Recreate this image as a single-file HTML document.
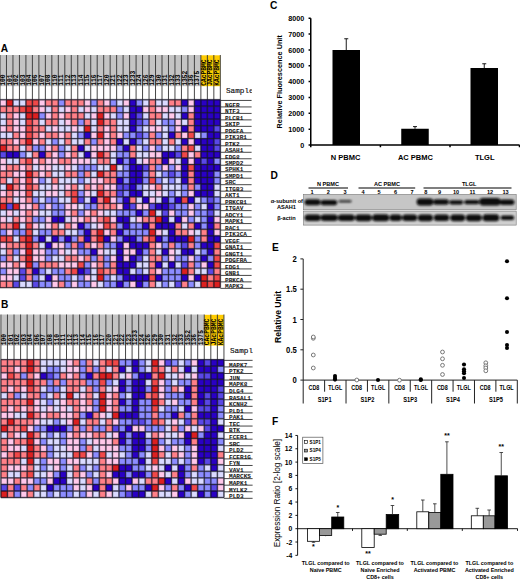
<!DOCTYPE html>
<html><head><meta charset="utf-8"><title>Figure</title>
<style>html,body{margin:0;padding:0;background:#fff}body{width:520px;height:581px;overflow:hidden;font-family:"Liberation Sans",sans-serif}svg{display:block}</style>
</head><body>
<svg width="520" height="581" viewBox="0 0 520 581">
<rect width="520" height="581" fill="#fff"/>
<g font-family="Liberation Sans, sans-serif" font-weight="bold" font-size="10.2" fill="#000">
<text x="0.8" y="52">A</text><text x="0.9" y="308">B</text><text x="270" y="8.5">C</text><text x="270.5" y="178.6">D</text><text x="272" y="251">E</text><text x="272" y="425.2">F</text>
</g>
<defs><filter id="hb" x="-2%" y="-2%" width="104%" height="104%"><feGaussianBlur stdDeviation="0.8"/></filter></defs>
<!--HEATA-->
<rect x="0" y="55" width="200.88" height="31.2" fill="#c4c4c4"/>
<rect x="200.88" y="55.3" width="19.44" height="30.9" fill="#ffcc00"/>
<path d="M0 55V99.7M6.48 55V99.7M12.96 55V99.7M19.44 55V99.7M25.92 55V99.7M32.4 55V99.7M38.88 55V99.7M45.36 55V99.7M51.84 55V99.7M58.32 55V99.7M64.8 55V99.7M71.28 55V99.7M77.76 55V99.7M84.24 55V99.7M90.72 55V99.7M97.2 55V99.7M103.68 55V99.7M110.16 55V99.7M116.64 55V99.7M123.12 55V99.7M129.6 55V99.7M136.08 55V99.7M142.56 55V99.7M149.04 55V99.7M155.52 55V99.7M162 55V99.7M168.48 55V99.7M174.96 55V99.7M181.44 55V99.7M187.92 55V99.7M194.4 55V99.7M200.88 55V99.7M207.36 55V99.7M213.84 55V99.7M220.32 55V99.7" stroke="#333" stroke-width="0.9" fill="none"/>
<g font-family="Liberation Mono, monospace" font-size="6.3" font-weight="bold" fill="#000">
<text transform="translate(5.09 85.8) rotate(-90)">100</text>
<text transform="translate(11.57 85.8) rotate(-90)">101</text>
<text transform="translate(18.05 85.8) rotate(-90)">102</text>
<text transform="translate(24.53 85.8) rotate(-90)">103</text>
<text transform="translate(31.01 85.8) rotate(-90)">104</text>
<text transform="translate(37.49 85.8) rotate(-90)">106</text>
<text transform="translate(43.97 85.8) rotate(-90)">107</text>
<text transform="translate(50.45 85.8) rotate(-90)">108</text>
<text transform="translate(56.93 85.8) rotate(-90)">110</text>
<text transform="translate(63.41 85.8) rotate(-90)">111</text>
<text transform="translate(69.89 85.8) rotate(-90)">112</text>
<text transform="translate(76.37 85.8) rotate(-90)">113</text>
<text transform="translate(82.85 85.8) rotate(-90)">114</text>
<text transform="translate(89.33 85.8) rotate(-90)">115</text>
<text transform="translate(95.81 85.8) rotate(-90)">116</text>
<text transform="translate(102.29 85.8) rotate(-90)">117</text>
<text transform="translate(108.77 85.8) rotate(-90)">120</text>
<text transform="translate(115.25 85.8) rotate(-90)">121</text>
<text transform="translate(121.73 85.8) rotate(-90)">122</text>
<text transform="translate(128.21 85.8) rotate(-90)">123</text>
<text transform="translate(134.69 85.8) rotate(-90)">1233</text>
<text transform="translate(141.17 85.8) rotate(-90)">124</text>
<text transform="translate(147.65 85.8) rotate(-90)">126</text>
<text transform="translate(154.13 85.8) rotate(-90)">129</text>
<text transform="translate(160.61 85.8) rotate(-90)">130</text>
<text transform="translate(167.09 85.8) rotate(-90)">131</text>
<text transform="translate(173.57 85.8) rotate(-90)">132</text>
<text transform="translate(180.05 85.8) rotate(-90)">133</text>
<text transform="translate(186.53 85.8) rotate(-90)">1352</text>
<text transform="translate(193.01 85.8) rotate(-90)">136</text>
<text transform="translate(199.49 85.8) rotate(-90)">1375</text>
<text transform="translate(205.97 85.8) rotate(-90)">CAcPBMC</text>
<text transform="translate(212.45 85.8) rotate(-90)">JAcPBMC</text>
<text transform="translate(218.93 85.8) rotate(-90)">KAcPBMC</text>
</g>
<rect x="0" y="99.7" width="6.53" height="6.53" fill="#ffc8ea"/>
<rect x="6.48" y="99.7" width="6.53" height="6.53" fill="#dc2020"/>
<rect x="12.96" y="99.7" width="6.53" height="6.53" fill="#dadaff"/>
<rect x="19.44" y="99.7" width="6.53" height="6.53" fill="#dadaff"/>
<rect x="25.92" y="99.7" width="6.53" height="6.53" fill="#f04848"/>
<rect x="32.4" y="99.7" width="6.53" height="6.53" fill="#f04848"/>
<rect x="38.88" y="99.7" width="6.53" height="6.53" fill="#ffc8ea"/>
<rect x="45.36" y="99.7" width="6.53" height="6.53" fill="#ff8088"/>
<rect x="51.84" y="99.7" width="6.53" height="6.53" fill="#ff8088"/>
<rect x="58.32" y="99.7" width="6.53" height="6.53" fill="#8c8cff"/>
<rect x="64.8" y="99.7" width="6.53" height="6.53" fill="#ff8088"/>
<rect x="71.28" y="99.7" width="6.53" height="6.53" fill="#ff8088"/>
<rect x="77.76" y="99.7" width="6.53" height="6.53" fill="#ff8088"/>
<rect x="84.24" y="99.7" width="6.53" height="6.53" fill="#ffc8ea"/>
<rect x="90.72" y="99.7" width="6.53" height="6.53" fill="#8c8cff"/>
<rect x="97.2" y="99.7" width="6.53" height="6.53" fill="#ff8088"/>
<rect x="103.68" y="99.7" width="6.53" height="6.53" fill="#ffc8ea"/>
<rect x="110.16" y="99.7" width="6.53" height="6.53" fill="#8c8cff"/>
<rect x="116.64" y="99.7" width="6.53" height="6.53" fill="#dadaff"/>
<rect x="123.12" y="99.7" width="6.53" height="6.53" fill="#ffc8ea"/>
<rect x="129.6" y="99.7" width="6.53" height="6.53" fill="#2a00c4"/>
<rect x="136.08" y="99.7" width="6.53" height="6.53" fill="#8c8cff"/>
<rect x="142.56" y="99.7" width="6.53" height="6.53" fill="#dadaff"/>
<rect x="149.04" y="99.7" width="6.53" height="6.53" fill="#ff8088"/>
<rect x="155.52" y="99.7" width="6.53" height="6.53" fill="#dadaff"/>
<rect x="162" y="99.7" width="6.53" height="6.53" fill="#dadaff"/>
<rect x="168.48" y="99.7" width="6.53" height="6.53" fill="#ff8088"/>
<rect x="174.96" y="99.7" width="6.53" height="6.53" fill="#ff8088"/>
<rect x="181.44" y="99.7" width="6.53" height="6.53" fill="#2a00c4"/>
<rect x="187.92" y="99.7" width="6.53" height="6.53" fill="#ffc8ea"/>
<rect x="194.4" y="99.7" width="6.53" height="6.53" fill="#2a00c4"/>
<rect x="200.88" y="99.7" width="6.53" height="6.53" fill="#2a00c4"/>
<rect x="207.36" y="99.7" width="6.53" height="6.53" fill="#2a00c4"/>
<rect x="213.84" y="99.7" width="6.53" height="6.53" fill="#2a00c4"/>
<rect x="0" y="106.18" width="6.53" height="6.53" fill="#ff8088"/>
<rect x="6.48" y="106.18" width="6.53" height="6.53" fill="#ff8088"/>
<rect x="12.96" y="106.18" width="6.53" height="6.53" fill="#ff8088"/>
<rect x="19.44" y="106.18" width="6.53" height="6.53" fill="#f04848"/>
<rect x="25.92" y="106.18" width="6.53" height="6.53" fill="#dc2020"/>
<rect x="32.4" y="106.18" width="6.53" height="6.53" fill="#ff8088"/>
<rect x="38.88" y="106.18" width="6.53" height="6.53" fill="#ffc8ea"/>
<rect x="45.36" y="106.18" width="6.53" height="6.53" fill="#dadaff"/>
<rect x="51.84" y="106.18" width="6.53" height="6.53" fill="#ff8088"/>
<rect x="58.32" y="106.18" width="6.53" height="6.53" fill="#dadaff"/>
<rect x="64.8" y="106.18" width="6.53" height="6.53" fill="#ffc8ea"/>
<rect x="71.28" y="106.18" width="6.53" height="6.53" fill="#ff8088"/>
<rect x="77.76" y="106.18" width="6.53" height="6.53" fill="#dadaff"/>
<rect x="84.24" y="106.18" width="6.53" height="6.53" fill="#ffc8ea"/>
<rect x="90.72" y="106.18" width="6.53" height="6.53" fill="#dadaff"/>
<rect x="97.2" y="106.18" width="6.53" height="6.53" fill="#ff8088"/>
<rect x="103.68" y="106.18" width="6.53" height="6.53" fill="#ff8088"/>
<rect x="110.16" y="106.18" width="6.53" height="6.53" fill="#ff8088"/>
<rect x="116.64" y="106.18" width="6.53" height="6.53" fill="#8c8cff"/>
<rect x="123.12" y="106.18" width="6.53" height="6.53" fill="#dadaff"/>
<rect x="129.6" y="106.18" width="6.53" height="6.53" fill="#2a00c4"/>
<rect x="136.08" y="106.18" width="6.53" height="6.53" fill="#2a00c4"/>
<rect x="142.56" y="106.18" width="6.53" height="6.53" fill="#ffc8ea"/>
<rect x="149.04" y="106.18" width="6.53" height="6.53" fill="#ff8088"/>
<rect x="155.52" y="106.18" width="6.53" height="6.53" fill="#ffc8ea"/>
<rect x="162" y="106.18" width="6.53" height="6.53" fill="#ffc8ea"/>
<rect x="168.48" y="106.18" width="6.53" height="6.53" fill="#dadaff"/>
<rect x="174.96" y="106.18" width="6.53" height="6.53" fill="#dadaff"/>
<rect x="181.44" y="106.18" width="6.53" height="6.53" fill="#8c8cff"/>
<rect x="187.92" y="106.18" width="6.53" height="6.53" fill="#ffc8ea"/>
<rect x="194.4" y="106.18" width="6.53" height="6.53" fill="#2a00c4"/>
<rect x="200.88" y="106.18" width="6.53" height="6.53" fill="#2a00c4"/>
<rect x="207.36" y="106.18" width="6.53" height="6.53" fill="#2a00c4"/>
<rect x="213.84" y="106.18" width="6.53" height="6.53" fill="#2a00c4"/>
<rect x="0" y="112.66" width="6.53" height="6.53" fill="#dadaff"/>
<rect x="6.48" y="112.66" width="6.53" height="6.53" fill="#ff8088"/>
<rect x="12.96" y="112.66" width="6.53" height="6.53" fill="#ffc8ea"/>
<rect x="19.44" y="112.66" width="6.53" height="6.53" fill="#dadaff"/>
<rect x="25.92" y="112.66" width="6.53" height="6.53" fill="#dc2020"/>
<rect x="32.4" y="112.66" width="6.53" height="6.53" fill="#dc2020"/>
<rect x="38.88" y="112.66" width="6.53" height="6.53" fill="#8c8cff"/>
<rect x="45.36" y="112.66" width="6.53" height="6.53" fill="#ffc8ea"/>
<rect x="51.84" y="112.66" width="6.53" height="6.53" fill="#ff8088"/>
<rect x="58.32" y="112.66" width="6.53" height="6.53" fill="#ffc8ea"/>
<rect x="64.8" y="112.66" width="6.53" height="6.53" fill="#ff8088"/>
<rect x="71.28" y="112.66" width="6.53" height="6.53" fill="#ff8088"/>
<rect x="77.76" y="112.66" width="6.53" height="6.53" fill="#ff8088"/>
<rect x="84.24" y="112.66" width="6.53" height="6.53" fill="#dadaff"/>
<rect x="90.72" y="112.66" width="6.53" height="6.53" fill="#ffc8ea"/>
<rect x="97.2" y="112.66" width="6.53" height="6.53" fill="#dc2020"/>
<rect x="103.68" y="112.66" width="6.53" height="6.53" fill="#ffc8ea"/>
<rect x="110.16" y="112.66" width="6.53" height="6.53" fill="#dadaff"/>
<rect x="116.64" y="112.66" width="6.53" height="6.53" fill="#8c8cff"/>
<rect x="123.12" y="112.66" width="6.53" height="6.53" fill="#ffc8ea"/>
<rect x="129.6" y="112.66" width="6.53" height="6.53" fill="#2a00c4"/>
<rect x="136.08" y="112.66" width="6.53" height="6.53" fill="#5a48e6"/>
<rect x="142.56" y="112.66" width="6.53" height="6.53" fill="#dadaff"/>
<rect x="149.04" y="112.66" width="6.53" height="6.53" fill="#ff8088"/>
<rect x="155.52" y="112.66" width="6.53" height="6.53" fill="#ff8088"/>
<rect x="162" y="112.66" width="6.53" height="6.53" fill="#dadaff"/>
<rect x="168.48" y="112.66" width="6.53" height="6.53" fill="#ffc8ea"/>
<rect x="174.96" y="112.66" width="6.53" height="6.53" fill="#dadaff"/>
<rect x="181.44" y="112.66" width="6.53" height="6.53" fill="#2a00c4"/>
<rect x="187.92" y="112.66" width="6.53" height="6.53" fill="#ff8088"/>
<rect x="194.4" y="112.66" width="6.53" height="6.53" fill="#2a00c4"/>
<rect x="200.88" y="112.66" width="6.53" height="6.53" fill="#2a00c4"/>
<rect x="207.36" y="112.66" width="6.53" height="6.53" fill="#2a00c4"/>
<rect x="213.84" y="112.66" width="6.53" height="6.53" fill="#2a00c4"/>
<rect x="0" y="119.14" width="6.53" height="6.53" fill="#dadaff"/>
<rect x="6.48" y="119.14" width="6.53" height="6.53" fill="#ff8088"/>
<rect x="12.96" y="119.14" width="6.53" height="6.53" fill="#ffc8ea"/>
<rect x="19.44" y="119.14" width="6.53" height="6.53" fill="#dadaff"/>
<rect x="25.92" y="119.14" width="6.53" height="6.53" fill="#f04848"/>
<rect x="32.4" y="119.14" width="6.53" height="6.53" fill="#ff8088"/>
<rect x="38.88" y="119.14" width="6.53" height="6.53" fill="#dadaff"/>
<rect x="45.36" y="119.14" width="6.53" height="6.53" fill="#ff8088"/>
<rect x="51.84" y="119.14" width="6.53" height="6.53" fill="#ff8088"/>
<rect x="58.32" y="119.14" width="6.53" height="6.53" fill="#dadaff"/>
<rect x="64.8" y="119.14" width="6.53" height="6.53" fill="#ffc8ea"/>
<rect x="71.28" y="119.14" width="6.53" height="6.53" fill="#ff8088"/>
<rect x="77.76" y="119.14" width="6.53" height="6.53" fill="#8c8cff"/>
<rect x="84.24" y="119.14" width="6.53" height="6.53" fill="#ff8088"/>
<rect x="90.72" y="119.14" width="6.53" height="6.53" fill="#dadaff"/>
<rect x="97.2" y="119.14" width="6.53" height="6.53" fill="#dc2020"/>
<rect x="103.68" y="119.14" width="6.53" height="6.53" fill="#ff8088"/>
<rect x="110.16" y="119.14" width="6.53" height="6.53" fill="#ff8088"/>
<rect x="116.64" y="119.14" width="6.53" height="6.53" fill="#dadaff"/>
<rect x="123.12" y="119.14" width="6.53" height="6.53" fill="#dadaff"/>
<rect x="129.6" y="119.14" width="6.53" height="6.53" fill="#2a00c4"/>
<rect x="136.08" y="119.14" width="6.53" height="6.53" fill="#5a48e6"/>
<rect x="142.56" y="119.14" width="6.53" height="6.53" fill="#8c8cff"/>
<rect x="149.04" y="119.14" width="6.53" height="6.53" fill="#ff8088"/>
<rect x="155.52" y="119.14" width="6.53" height="6.53" fill="#dadaff"/>
<rect x="162" y="119.14" width="6.53" height="6.53" fill="#8c8cff"/>
<rect x="168.48" y="119.14" width="6.53" height="6.53" fill="#8c8cff"/>
<rect x="174.96" y="119.14" width="6.53" height="6.53" fill="#ffc8ea"/>
<rect x="181.44" y="119.14" width="6.53" height="6.53" fill="#dadaff"/>
<rect x="187.92" y="119.14" width="6.53" height="6.53" fill="#ff8088"/>
<rect x="194.4" y="119.14" width="6.53" height="6.53" fill="#2a00c4"/>
<rect x="200.88" y="119.14" width="6.53" height="6.53" fill="#2a00c4"/>
<rect x="207.36" y="119.14" width="6.53" height="6.53" fill="#2a00c4"/>
<rect x="213.84" y="119.14" width="6.53" height="6.53" fill="#2a00c4"/>
<rect x="0" y="125.62" width="6.53" height="6.53" fill="#ffc8ea"/>
<rect x="6.48" y="125.62" width="6.53" height="6.53" fill="#ff8088"/>
<rect x="12.96" y="125.62" width="6.53" height="6.53" fill="#ffc8ea"/>
<rect x="19.44" y="125.62" width="6.53" height="6.53" fill="#ffc8ea"/>
<rect x="25.92" y="125.62" width="6.53" height="6.53" fill="#f04848"/>
<rect x="32.4" y="125.62" width="6.53" height="6.53" fill="#ff8088"/>
<rect x="38.88" y="125.62" width="6.53" height="6.53" fill="#ff8088"/>
<rect x="45.36" y="125.62" width="6.53" height="6.53" fill="#dadaff"/>
<rect x="51.84" y="125.62" width="6.53" height="6.53" fill="#ffc8ea"/>
<rect x="58.32" y="125.62" width="6.53" height="6.53" fill="#dadaff"/>
<rect x="64.8" y="125.62" width="6.53" height="6.53" fill="#dadaff"/>
<rect x="71.28" y="125.62" width="6.53" height="6.53" fill="#ffc8ea"/>
<rect x="77.76" y="125.62" width="6.53" height="6.53" fill="#dadaff"/>
<rect x="84.24" y="125.62" width="6.53" height="6.53" fill="#dc2020"/>
<rect x="90.72" y="125.62" width="6.53" height="6.53" fill="#dadaff"/>
<rect x="97.2" y="125.62" width="6.53" height="6.53" fill="#ff8088"/>
<rect x="103.68" y="125.62" width="6.53" height="6.53" fill="#ffc8ea"/>
<rect x="110.16" y="125.62" width="6.53" height="6.53" fill="#ff8088"/>
<rect x="116.64" y="125.62" width="6.53" height="6.53" fill="#dadaff"/>
<rect x="123.12" y="125.62" width="6.53" height="6.53" fill="#dadaff"/>
<rect x="129.6" y="125.62" width="6.53" height="6.53" fill="#2a00c4"/>
<rect x="136.08" y="125.62" width="6.53" height="6.53" fill="#8c8cff"/>
<rect x="142.56" y="125.62" width="6.53" height="6.53" fill="#dadaff"/>
<rect x="149.04" y="125.62" width="6.53" height="6.53" fill="#ffc8ea"/>
<rect x="155.52" y="125.62" width="6.53" height="6.53" fill="#ffc8ea"/>
<rect x="162" y="125.62" width="6.53" height="6.53" fill="#dadaff"/>
<rect x="168.48" y="125.62" width="6.53" height="6.53" fill="#8c8cff"/>
<rect x="174.96" y="125.62" width="6.53" height="6.53" fill="#ffc8ea"/>
<rect x="181.44" y="125.62" width="6.53" height="6.53" fill="#2a00c4"/>
<rect x="187.92" y="125.62" width="6.53" height="6.53" fill="#ff8088"/>
<rect x="194.4" y="125.62" width="6.53" height="6.53" fill="#2a00c4"/>
<rect x="200.88" y="125.62" width="6.53" height="6.53" fill="#2a00c4"/>
<rect x="207.36" y="125.62" width="6.53" height="6.53" fill="#2a00c4"/>
<rect x="213.84" y="125.62" width="6.53" height="6.53" fill="#5a48e6"/>
<rect x="0" y="132.1" width="6.53" height="6.53" fill="#dadaff"/>
<rect x="6.48" y="132.1" width="6.53" height="6.53" fill="#dadaff"/>
<rect x="12.96" y="132.1" width="6.53" height="6.53" fill="#ff8088"/>
<rect x="19.44" y="132.1" width="6.53" height="6.53" fill="#ffc8ea"/>
<rect x="25.92" y="132.1" width="6.53" height="6.53" fill="#f04848"/>
<rect x="32.4" y="132.1" width="6.53" height="6.53" fill="#ff8088"/>
<rect x="38.88" y="132.1" width="6.53" height="6.53" fill="#ffc8ea"/>
<rect x="45.36" y="132.1" width="6.53" height="6.53" fill="#ff8088"/>
<rect x="51.84" y="132.1" width="6.53" height="6.53" fill="#ff8088"/>
<rect x="58.32" y="132.1" width="6.53" height="6.53" fill="#ffc8ea"/>
<rect x="64.8" y="132.1" width="6.53" height="6.53" fill="#ff8088"/>
<rect x="71.28" y="132.1" width="6.53" height="6.53" fill="#dadaff"/>
<rect x="77.76" y="132.1" width="6.53" height="6.53" fill="#8c8cff"/>
<rect x="84.24" y="132.1" width="6.53" height="6.53" fill="#2a00c4"/>
<rect x="90.72" y="132.1" width="6.53" height="6.53" fill="#ffc8ea"/>
<rect x="97.2" y="132.1" width="6.53" height="6.53" fill="#dc2020"/>
<rect x="103.68" y="132.1" width="6.53" height="6.53" fill="#ffc8ea"/>
<rect x="110.16" y="132.1" width="6.53" height="6.53" fill="#ff8088"/>
<rect x="116.64" y="132.1" width="6.53" height="6.53" fill="#ffc8ea"/>
<rect x="123.12" y="132.1" width="6.53" height="6.53" fill="#8c8cff"/>
<rect x="129.6" y="132.1" width="6.53" height="6.53" fill="#8c8cff"/>
<rect x="136.08" y="132.1" width="6.53" height="6.53" fill="#5a48e6"/>
<rect x="142.56" y="132.1" width="6.53" height="6.53" fill="#8c8cff"/>
<rect x="149.04" y="132.1" width="6.53" height="6.53" fill="#ff8088"/>
<rect x="155.52" y="132.1" width="6.53" height="6.53" fill="#8c8cff"/>
<rect x="162" y="132.1" width="6.53" height="6.53" fill="#dadaff"/>
<rect x="168.48" y="132.1" width="6.53" height="6.53" fill="#2a00c4"/>
<rect x="174.96" y="132.1" width="6.53" height="6.53" fill="#ff8088"/>
<rect x="181.44" y="132.1" width="6.53" height="6.53" fill="#ffc8ea"/>
<rect x="187.92" y="132.1" width="6.53" height="6.53" fill="#f04848"/>
<rect x="194.4" y="132.1" width="6.53" height="6.53" fill="#dadaff"/>
<rect x="200.88" y="132.1" width="6.53" height="6.53" fill="#8c8cff"/>
<rect x="207.36" y="132.1" width="6.53" height="6.53" fill="#2a00c4"/>
<rect x="213.84" y="132.1" width="6.53" height="6.53" fill="#2a00c4"/>
<rect x="0" y="138.58" width="6.53" height="6.53" fill="#ff8088"/>
<rect x="6.48" y="138.58" width="6.53" height="6.53" fill="#ff8088"/>
<rect x="12.96" y="138.58" width="6.53" height="6.53" fill="#ffc8ea"/>
<rect x="19.44" y="138.58" width="6.53" height="6.53" fill="#ff8088"/>
<rect x="25.92" y="138.58" width="6.53" height="6.53" fill="#dc2020"/>
<rect x="32.4" y="138.58" width="6.53" height="6.53" fill="#ffc8ea"/>
<rect x="38.88" y="138.58" width="6.53" height="6.53" fill="#ff8088"/>
<rect x="45.36" y="138.58" width="6.53" height="6.53" fill="#dadaff"/>
<rect x="51.84" y="138.58" width="6.53" height="6.53" fill="#8c8cff"/>
<rect x="58.32" y="138.58" width="6.53" height="6.53" fill="#dadaff"/>
<rect x="64.8" y="138.58" width="6.53" height="6.53" fill="#ff8088"/>
<rect x="71.28" y="138.58" width="6.53" height="6.53" fill="#dadaff"/>
<rect x="77.76" y="138.58" width="6.53" height="6.53" fill="#dadaff"/>
<rect x="84.24" y="138.58" width="6.53" height="6.53" fill="#ff8088"/>
<rect x="90.72" y="138.58" width="6.53" height="6.53" fill="#8c8cff"/>
<rect x="97.2" y="138.58" width="6.53" height="6.53" fill="#ff8088"/>
<rect x="103.68" y="138.58" width="6.53" height="6.53" fill="#ffc8ea"/>
<rect x="110.16" y="138.58" width="6.53" height="6.53" fill="#ff8088"/>
<rect x="116.64" y="138.58" width="6.53" height="6.53" fill="#2a00c4"/>
<rect x="123.12" y="138.58" width="6.53" height="6.53" fill="#dadaff"/>
<rect x="129.6" y="138.58" width="6.53" height="6.53" fill="#2a00c4"/>
<rect x="136.08" y="138.58" width="6.53" height="6.53" fill="#8c8cff"/>
<rect x="142.56" y="138.58" width="6.53" height="6.53" fill="#dadaff"/>
<rect x="149.04" y="138.58" width="6.53" height="6.53" fill="#ff8088"/>
<rect x="155.52" y="138.58" width="6.53" height="6.53" fill="#ff8088"/>
<rect x="162" y="138.58" width="6.53" height="6.53" fill="#dadaff"/>
<rect x="168.48" y="138.58" width="6.53" height="6.53" fill="#ff8088"/>
<rect x="174.96" y="138.58" width="6.53" height="6.53" fill="#dadaff"/>
<rect x="181.44" y="138.58" width="6.53" height="6.53" fill="#2a00c4"/>
<rect x="187.92" y="138.58" width="6.53" height="6.53" fill="#ffc8ea"/>
<rect x="194.4" y="138.58" width="6.53" height="6.53" fill="#2a00c4"/>
<rect x="200.88" y="138.58" width="6.53" height="6.53" fill="#2a00c4"/>
<rect x="207.36" y="138.58" width="6.53" height="6.53" fill="#2a00c4"/>
<rect x="213.84" y="138.58" width="6.53" height="6.53" fill="#5a48e6"/>
<rect x="0" y="145.06" width="6.53" height="6.53" fill="#dc2020"/>
<rect x="6.48" y="145.06" width="6.53" height="6.53" fill="#ff8088"/>
<rect x="12.96" y="145.06" width="6.53" height="6.53" fill="#ff8088"/>
<rect x="19.44" y="145.06" width="6.53" height="6.53" fill="#dadaff"/>
<rect x="25.92" y="145.06" width="6.53" height="6.53" fill="#ff8088"/>
<rect x="32.4" y="145.06" width="6.53" height="6.53" fill="#8c8cff"/>
<rect x="38.88" y="145.06" width="6.53" height="6.53" fill="#8c8cff"/>
<rect x="45.36" y="145.06" width="6.53" height="6.53" fill="#ffc8ea"/>
<rect x="51.84" y="145.06" width="6.53" height="6.53" fill="#ff8088"/>
<rect x="58.32" y="145.06" width="6.53" height="6.53" fill="#8c8cff"/>
<rect x="64.8" y="145.06" width="6.53" height="6.53" fill="#dadaff"/>
<rect x="71.28" y="145.06" width="6.53" height="6.53" fill="#ff8088"/>
<rect x="77.76" y="145.06" width="6.53" height="6.53" fill="#2a00c4"/>
<rect x="84.24" y="145.06" width="6.53" height="6.53" fill="#dadaff"/>
<rect x="90.72" y="145.06" width="6.53" height="6.53" fill="#ffc8ea"/>
<rect x="97.2" y="145.06" width="6.53" height="6.53" fill="#ffc8ea"/>
<rect x="103.68" y="145.06" width="6.53" height="6.53" fill="#ffc8ea"/>
<rect x="110.16" y="145.06" width="6.53" height="6.53" fill="#ffc8ea"/>
<rect x="116.64" y="145.06" width="6.53" height="6.53" fill="#8c8cff"/>
<rect x="123.12" y="145.06" width="6.53" height="6.53" fill="#2a00c4"/>
<rect x="129.6" y="145.06" width="6.53" height="6.53" fill="#ff8088"/>
<rect x="136.08" y="145.06" width="6.53" height="6.53" fill="#dadaff"/>
<rect x="142.56" y="145.06" width="6.53" height="6.53" fill="#8c8cff"/>
<rect x="149.04" y="145.06" width="6.53" height="6.53" fill="#ffc8ea"/>
<rect x="155.52" y="145.06" width="6.53" height="6.53" fill="#8c8cff"/>
<rect x="162" y="145.06" width="6.53" height="6.53" fill="#dadaff"/>
<rect x="168.48" y="145.06" width="6.53" height="6.53" fill="#dadaff"/>
<rect x="174.96" y="145.06" width="6.53" height="6.53" fill="#8c8cff"/>
<rect x="181.44" y="145.06" width="6.53" height="6.53" fill="#ff8088"/>
<rect x="187.92" y="145.06" width="6.53" height="6.53" fill="#f04848"/>
<rect x="194.4" y="145.06" width="6.53" height="6.53" fill="#dadaff"/>
<rect x="200.88" y="145.06" width="6.53" height="6.53" fill="#2a00c4"/>
<rect x="207.36" y="145.06" width="6.53" height="6.53" fill="#2a00c4"/>
<rect x="213.84" y="145.06" width="6.53" height="6.53" fill="#5a48e6"/>
<rect x="0" y="151.54" width="6.53" height="6.53" fill="#5a48e6"/>
<rect x="6.48" y="151.54" width="6.53" height="6.53" fill="#2a00c4"/>
<rect x="12.96" y="151.54" width="6.53" height="6.53" fill="#2a00c4"/>
<rect x="19.44" y="151.54" width="6.53" height="6.53" fill="#8c8cff"/>
<rect x="25.92" y="151.54" width="6.53" height="6.53" fill="#dadaff"/>
<rect x="32.4" y="151.54" width="6.53" height="6.53" fill="#ff8088"/>
<rect x="38.88" y="151.54" width="6.53" height="6.53" fill="#2a00c4"/>
<rect x="45.36" y="151.54" width="6.53" height="6.53" fill="#ff8088"/>
<rect x="51.84" y="151.54" width="6.53" height="6.53" fill="#ffc8ea"/>
<rect x="58.32" y="151.54" width="6.53" height="6.53" fill="#8c8cff"/>
<rect x="64.8" y="151.54" width="6.53" height="6.53" fill="#ffc8ea"/>
<rect x="71.28" y="151.54" width="6.53" height="6.53" fill="#ff8088"/>
<rect x="77.76" y="151.54" width="6.53" height="6.53" fill="#dadaff"/>
<rect x="84.24" y="151.54" width="6.53" height="6.53" fill="#2a00c4"/>
<rect x="90.72" y="151.54" width="6.53" height="6.53" fill="#ffc8ea"/>
<rect x="97.2" y="151.54" width="6.53" height="6.53" fill="#dc2020"/>
<rect x="103.68" y="151.54" width="6.53" height="6.53" fill="#ff8088"/>
<rect x="110.16" y="151.54" width="6.53" height="6.53" fill="#dadaff"/>
<rect x="116.64" y="151.54" width="6.53" height="6.53" fill="#8c8cff"/>
<rect x="123.12" y="151.54" width="6.53" height="6.53" fill="#8c8cff"/>
<rect x="129.6" y="151.54" width="6.53" height="6.53" fill="#ff8088"/>
<rect x="136.08" y="151.54" width="6.53" height="6.53" fill="#dadaff"/>
<rect x="142.56" y="151.54" width="6.53" height="6.53" fill="#dadaff"/>
<rect x="149.04" y="151.54" width="6.53" height="6.53" fill="#ffc8ea"/>
<rect x="155.52" y="151.54" width="6.53" height="6.53" fill="#ffc8ea"/>
<rect x="162" y="151.54" width="6.53" height="6.53" fill="#2a00c4"/>
<rect x="168.48" y="151.54" width="6.53" height="6.53" fill="#2a00c4"/>
<rect x="174.96" y="151.54" width="6.53" height="6.53" fill="#5a48e6"/>
<rect x="181.44" y="151.54" width="6.53" height="6.53" fill="#f04848"/>
<rect x="187.92" y="151.54" width="6.53" height="6.53" fill="#ffc8ea"/>
<rect x="194.4" y="151.54" width="6.53" height="6.53" fill="#ff8088"/>
<rect x="200.88" y="151.54" width="6.53" height="6.53" fill="#2a00c4"/>
<rect x="207.36" y="151.54" width="6.53" height="6.53" fill="#2a00c4"/>
<rect x="213.84" y="151.54" width="6.53" height="6.53" fill="#2a00c4"/>
<rect x="0" y="158.02" width="6.53" height="6.53" fill="#ffc8ea"/>
<rect x="6.48" y="158.02" width="6.53" height="6.53" fill="#dadaff"/>
<rect x="12.96" y="158.02" width="6.53" height="6.53" fill="#dadaff"/>
<rect x="19.44" y="158.02" width="6.53" height="6.53" fill="#ff8088"/>
<rect x="25.92" y="158.02" width="6.53" height="6.53" fill="#f04848"/>
<rect x="32.4" y="158.02" width="6.53" height="6.53" fill="#ffc8ea"/>
<rect x="38.88" y="158.02" width="6.53" height="6.53" fill="#ff8088"/>
<rect x="45.36" y="158.02" width="6.53" height="6.53" fill="#ffc8ea"/>
<rect x="51.84" y="158.02" width="6.53" height="6.53" fill="#ffc8ea"/>
<rect x="58.32" y="158.02" width="6.53" height="6.53" fill="#ff8088"/>
<rect x="64.8" y="158.02" width="6.53" height="6.53" fill="#ff8088"/>
<rect x="71.28" y="158.02" width="6.53" height="6.53" fill="#ffc8ea"/>
<rect x="77.76" y="158.02" width="6.53" height="6.53" fill="#ffc8ea"/>
<rect x="84.24" y="158.02" width="6.53" height="6.53" fill="#ffc8ea"/>
<rect x="90.72" y="158.02" width="6.53" height="6.53" fill="#dadaff"/>
<rect x="97.2" y="158.02" width="6.53" height="6.53" fill="#ff8088"/>
<rect x="103.68" y="158.02" width="6.53" height="6.53" fill="#ff8088"/>
<rect x="110.16" y="158.02" width="6.53" height="6.53" fill="#dadaff"/>
<rect x="116.64" y="158.02" width="6.53" height="6.53" fill="#2a00c4"/>
<rect x="123.12" y="158.02" width="6.53" height="6.53" fill="#8c8cff"/>
<rect x="129.6" y="158.02" width="6.53" height="6.53" fill="#2a00c4"/>
<rect x="136.08" y="158.02" width="6.53" height="6.53" fill="#dadaff"/>
<rect x="142.56" y="158.02" width="6.53" height="6.53" fill="#ffc8ea"/>
<rect x="149.04" y="158.02" width="6.53" height="6.53" fill="#ff8088"/>
<rect x="155.52" y="158.02" width="6.53" height="6.53" fill="#ff8088"/>
<rect x="162" y="158.02" width="6.53" height="6.53" fill="#2a00c4"/>
<rect x="168.48" y="158.02" width="6.53" height="6.53" fill="#ffc8ea"/>
<rect x="174.96" y="158.02" width="6.53" height="6.53" fill="#dadaff"/>
<rect x="181.44" y="158.02" width="6.53" height="6.53" fill="#2a00c4"/>
<rect x="187.92" y="158.02" width="6.53" height="6.53" fill="#ffc8ea"/>
<rect x="194.4" y="158.02" width="6.53" height="6.53" fill="#2a00c4"/>
<rect x="200.88" y="158.02" width="6.53" height="6.53" fill="#5a48e6"/>
<rect x="207.36" y="158.02" width="6.53" height="6.53" fill="#2a00c4"/>
<rect x="213.84" y="158.02" width="6.53" height="6.53" fill="#8c8cff"/>
<rect x="0" y="164.5" width="6.53" height="6.53" fill="#ffc8ea"/>
<rect x="6.48" y="164.5" width="6.53" height="6.53" fill="#ff8088"/>
<rect x="12.96" y="164.5" width="6.53" height="6.53" fill="#ff8088"/>
<rect x="19.44" y="164.5" width="6.53" height="6.53" fill="#ffc8ea"/>
<rect x="25.92" y="164.5" width="6.53" height="6.53" fill="#ff8088"/>
<rect x="32.4" y="164.5" width="6.53" height="6.53" fill="#dadaff"/>
<rect x="38.88" y="164.5" width="6.53" height="6.53" fill="#ffc8ea"/>
<rect x="45.36" y="164.5" width="6.53" height="6.53" fill="#ffc8ea"/>
<rect x="51.84" y="164.5" width="6.53" height="6.53" fill="#dadaff"/>
<rect x="58.32" y="164.5" width="6.53" height="6.53" fill="#dadaff"/>
<rect x="64.8" y="164.5" width="6.53" height="6.53" fill="#ffc8ea"/>
<rect x="71.28" y="164.5" width="6.53" height="6.53" fill="#dadaff"/>
<rect x="77.76" y="164.5" width="6.53" height="6.53" fill="#8c8cff"/>
<rect x="84.24" y="164.5" width="6.53" height="6.53" fill="#8c8cff"/>
<rect x="90.72" y="164.5" width="6.53" height="6.53" fill="#8c8cff"/>
<rect x="97.2" y="164.5" width="6.53" height="6.53" fill="#dadaff"/>
<rect x="103.68" y="164.5" width="6.53" height="6.53" fill="#dadaff"/>
<rect x="110.16" y="164.5" width="6.53" height="6.53" fill="#dc2020"/>
<rect x="116.64" y="164.5" width="6.53" height="6.53" fill="#dadaff"/>
<rect x="123.12" y="164.5" width="6.53" height="6.53" fill="#8c8cff"/>
<rect x="129.6" y="164.5" width="6.53" height="6.53" fill="#2a00c4"/>
<rect x="136.08" y="164.5" width="6.53" height="6.53" fill="#2a00c4"/>
<rect x="142.56" y="164.5" width="6.53" height="6.53" fill="#5a48e6"/>
<rect x="149.04" y="164.5" width="6.53" height="6.53" fill="#ff8088"/>
<rect x="155.52" y="164.5" width="6.53" height="6.53" fill="#8c8cff"/>
<rect x="162" y="164.5" width="6.53" height="6.53" fill="#ffc8ea"/>
<rect x="168.48" y="164.5" width="6.53" height="6.53" fill="#8c8cff"/>
<rect x="174.96" y="164.5" width="6.53" height="6.53" fill="#ffc8ea"/>
<rect x="181.44" y="164.5" width="6.53" height="6.53" fill="#2a00c4"/>
<rect x="187.92" y="164.5" width="6.53" height="6.53" fill="#f04848"/>
<rect x="194.4" y="164.5" width="6.53" height="6.53" fill="#2a00c4"/>
<rect x="200.88" y="164.5" width="6.53" height="6.53" fill="#2a00c4"/>
<rect x="207.36" y="164.5" width="6.53" height="6.53" fill="#2a00c4"/>
<rect x="213.84" y="164.5" width="6.53" height="6.53" fill="#2a00c4"/>
<rect x="0" y="170.98" width="6.53" height="6.53" fill="#ff8088"/>
<rect x="6.48" y="170.98" width="6.53" height="6.53" fill="#ff8088"/>
<rect x="12.96" y="170.98" width="6.53" height="6.53" fill="#ffc8ea"/>
<rect x="19.44" y="170.98" width="6.53" height="6.53" fill="#ffc8ea"/>
<rect x="25.92" y="170.98" width="6.53" height="6.53" fill="#dc2020"/>
<rect x="32.4" y="170.98" width="6.53" height="6.53" fill="#ff8088"/>
<rect x="38.88" y="170.98" width="6.53" height="6.53" fill="#ffc8ea"/>
<rect x="45.36" y="170.98" width="6.53" height="6.53" fill="#ff8088"/>
<rect x="51.84" y="170.98" width="6.53" height="6.53" fill="#dadaff"/>
<rect x="58.32" y="170.98" width="6.53" height="6.53" fill="#dadaff"/>
<rect x="64.8" y="170.98" width="6.53" height="6.53" fill="#ff8088"/>
<rect x="71.28" y="170.98" width="6.53" height="6.53" fill="#ff8088"/>
<rect x="77.76" y="170.98" width="6.53" height="6.53" fill="#8c8cff"/>
<rect x="84.24" y="170.98" width="6.53" height="6.53" fill="#ff8088"/>
<rect x="90.72" y="170.98" width="6.53" height="6.53" fill="#dadaff"/>
<rect x="97.2" y="170.98" width="6.53" height="6.53" fill="#dc2020"/>
<rect x="103.68" y="170.98" width="6.53" height="6.53" fill="#ff8088"/>
<rect x="110.16" y="170.98" width="6.53" height="6.53" fill="#ff8088"/>
<rect x="116.64" y="170.98" width="6.53" height="6.53" fill="#8c8cff"/>
<rect x="123.12" y="170.98" width="6.53" height="6.53" fill="#8c8cff"/>
<rect x="129.6" y="170.98" width="6.53" height="6.53" fill="#2a00c4"/>
<rect x="136.08" y="170.98" width="6.53" height="6.53" fill="#2a00c4"/>
<rect x="142.56" y="170.98" width="6.53" height="6.53" fill="#8c8cff"/>
<rect x="149.04" y="170.98" width="6.53" height="6.53" fill="#ff8088"/>
<rect x="155.52" y="170.98" width="6.53" height="6.53" fill="#dadaff"/>
<rect x="162" y="170.98" width="6.53" height="6.53" fill="#8c8cff"/>
<rect x="168.48" y="170.98" width="6.53" height="6.53" fill="#5a48e6"/>
<rect x="174.96" y="170.98" width="6.53" height="6.53" fill="#8c8cff"/>
<rect x="181.44" y="170.98" width="6.53" height="6.53" fill="#2a00c4"/>
<rect x="187.92" y="170.98" width="6.53" height="6.53" fill="#ff8088"/>
<rect x="194.4" y="170.98" width="6.53" height="6.53" fill="#2a00c4"/>
<rect x="200.88" y="170.98" width="6.53" height="6.53" fill="#2a00c4"/>
<rect x="207.36" y="170.98" width="6.53" height="6.53" fill="#2a00c4"/>
<rect x="213.84" y="170.98" width="6.53" height="6.53" fill="#8c8cff"/>
<rect x="0" y="177.46" width="6.53" height="6.53" fill="#ff8088"/>
<rect x="6.48" y="177.46" width="6.53" height="6.53" fill="#dadaff"/>
<rect x="12.96" y="177.46" width="6.53" height="6.53" fill="#ff8088"/>
<rect x="19.44" y="177.46" width="6.53" height="6.53" fill="#ffc8ea"/>
<rect x="25.92" y="177.46" width="6.53" height="6.53" fill="#f04848"/>
<rect x="32.4" y="177.46" width="6.53" height="6.53" fill="#ffc8ea"/>
<rect x="38.88" y="177.46" width="6.53" height="6.53" fill="#8c8cff"/>
<rect x="45.36" y="177.46" width="6.53" height="6.53" fill="#dadaff"/>
<rect x="51.84" y="177.46" width="6.53" height="6.53" fill="#ff8088"/>
<rect x="58.32" y="177.46" width="6.53" height="6.53" fill="#dadaff"/>
<rect x="64.8" y="177.46" width="6.53" height="6.53" fill="#dadaff"/>
<rect x="71.28" y="177.46" width="6.53" height="6.53" fill="#dadaff"/>
<rect x="77.76" y="177.46" width="6.53" height="6.53" fill="#8c8cff"/>
<rect x="84.24" y="177.46" width="6.53" height="6.53" fill="#dadaff"/>
<rect x="90.72" y="177.46" width="6.53" height="6.53" fill="#ffc8ea"/>
<rect x="97.2" y="177.46" width="6.53" height="6.53" fill="#ffc8ea"/>
<rect x="103.68" y="177.46" width="6.53" height="6.53" fill="#ff8088"/>
<rect x="110.16" y="177.46" width="6.53" height="6.53" fill="#ff8088"/>
<rect x="116.64" y="177.46" width="6.53" height="6.53" fill="#2a00c4"/>
<rect x="123.12" y="177.46" width="6.53" height="6.53" fill="#8c8cff"/>
<rect x="129.6" y="177.46" width="6.53" height="6.53" fill="#2a00c4"/>
<rect x="136.08" y="177.46" width="6.53" height="6.53" fill="#2a00c4"/>
<rect x="142.56" y="177.46" width="6.53" height="6.53" fill="#8c8cff"/>
<rect x="149.04" y="177.46" width="6.53" height="6.53" fill="#f04848"/>
<rect x="155.52" y="177.46" width="6.53" height="6.53" fill="#8c8cff"/>
<rect x="162" y="177.46" width="6.53" height="6.53" fill="#dadaff"/>
<rect x="168.48" y="177.46" width="6.53" height="6.53" fill="#8c8cff"/>
<rect x="174.96" y="177.46" width="6.53" height="6.53" fill="#dadaff"/>
<rect x="181.44" y="177.46" width="6.53" height="6.53" fill="#2a00c4"/>
<rect x="187.92" y="177.46" width="6.53" height="6.53" fill="#ff8088"/>
<rect x="194.4" y="177.46" width="6.53" height="6.53" fill="#2a00c4"/>
<rect x="200.88" y="177.46" width="6.53" height="6.53" fill="#2a00c4"/>
<rect x="207.36" y="177.46" width="6.53" height="6.53" fill="#2a00c4"/>
<rect x="213.84" y="177.46" width="6.53" height="6.53" fill="#8c8cff"/>
<rect x="0" y="183.94" width="6.53" height="6.53" fill="#dadaff"/>
<rect x="6.48" y="183.94" width="6.53" height="6.53" fill="#dc2020"/>
<rect x="12.96" y="183.94" width="6.53" height="6.53" fill="#ff8088"/>
<rect x="19.44" y="183.94" width="6.53" height="6.53" fill="#ffc8ea"/>
<rect x="25.92" y="183.94" width="6.53" height="6.53" fill="#f04848"/>
<rect x="32.4" y="183.94" width="6.53" height="6.53" fill="#ff8088"/>
<rect x="38.88" y="183.94" width="6.53" height="6.53" fill="#dadaff"/>
<rect x="45.36" y="183.94" width="6.53" height="6.53" fill="#dadaff"/>
<rect x="51.84" y="183.94" width="6.53" height="6.53" fill="#ffc8ea"/>
<rect x="58.32" y="183.94" width="6.53" height="6.53" fill="#dadaff"/>
<rect x="64.8" y="183.94" width="6.53" height="6.53" fill="#ffc8ea"/>
<rect x="71.28" y="183.94" width="6.53" height="6.53" fill="#ff8088"/>
<rect x="77.76" y="183.94" width="6.53" height="6.53" fill="#dadaff"/>
<rect x="84.24" y="183.94" width="6.53" height="6.53" fill="#ff8088"/>
<rect x="90.72" y="183.94" width="6.53" height="6.53" fill="#ffc8ea"/>
<rect x="97.2" y="183.94" width="6.53" height="6.53" fill="#ff8088"/>
<rect x="103.68" y="183.94" width="6.53" height="6.53" fill="#ffc8ea"/>
<rect x="110.16" y="183.94" width="6.53" height="6.53" fill="#ffc8ea"/>
<rect x="116.64" y="183.94" width="6.53" height="6.53" fill="#5a48e6"/>
<rect x="123.12" y="183.94" width="6.53" height="6.53" fill="#5a48e6"/>
<rect x="129.6" y="183.94" width="6.53" height="6.53" fill="#2a00c4"/>
<rect x="136.08" y="183.94" width="6.53" height="6.53" fill="#8c8cff"/>
<rect x="142.56" y="183.94" width="6.53" height="6.53" fill="#dadaff"/>
<rect x="149.04" y="183.94" width="6.53" height="6.53" fill="#ffc8ea"/>
<rect x="155.52" y="183.94" width="6.53" height="6.53" fill="#ff8088"/>
<rect x="162" y="183.94" width="6.53" height="6.53" fill="#dadaff"/>
<rect x="168.48" y="183.94" width="6.53" height="6.53" fill="#dadaff"/>
<rect x="174.96" y="183.94" width="6.53" height="6.53" fill="#dadaff"/>
<rect x="181.44" y="183.94" width="6.53" height="6.53" fill="#8c8cff"/>
<rect x="187.92" y="183.94" width="6.53" height="6.53" fill="#ff8088"/>
<rect x="194.4" y="183.94" width="6.53" height="6.53" fill="#8c8cff"/>
<rect x="200.88" y="183.94" width="6.53" height="6.53" fill="#2a00c4"/>
<rect x="207.36" y="183.94" width="6.53" height="6.53" fill="#2a00c4"/>
<rect x="213.84" y="183.94" width="6.53" height="6.53" fill="#dadaff"/>
<rect x="0" y="190.42" width="6.53" height="6.53" fill="#ffc8ea"/>
<rect x="6.48" y="190.42" width="6.53" height="6.53" fill="#ff8088"/>
<rect x="12.96" y="190.42" width="6.53" height="6.53" fill="#ffc8ea"/>
<rect x="19.44" y="190.42" width="6.53" height="6.53" fill="#ffc8ea"/>
<rect x="25.92" y="190.42" width="6.53" height="6.53" fill="#f04848"/>
<rect x="32.4" y="190.42" width="6.53" height="6.53" fill="#dadaff"/>
<rect x="38.88" y="190.42" width="6.53" height="6.53" fill="#dadaff"/>
<rect x="45.36" y="190.42" width="6.53" height="6.53" fill="#ffc8ea"/>
<rect x="51.84" y="190.42" width="6.53" height="6.53" fill="#ffc8ea"/>
<rect x="58.32" y="190.42" width="6.53" height="6.53" fill="#dadaff"/>
<rect x="64.8" y="190.42" width="6.53" height="6.53" fill="#ff8088"/>
<rect x="71.28" y="190.42" width="6.53" height="6.53" fill="#f04848"/>
<rect x="77.76" y="190.42" width="6.53" height="6.53" fill="#8c8cff"/>
<rect x="84.24" y="190.42" width="6.53" height="6.53" fill="#ffc8ea"/>
<rect x="90.72" y="190.42" width="6.53" height="6.53" fill="#dadaff"/>
<rect x="97.2" y="190.42" width="6.53" height="6.53" fill="#dc2020"/>
<rect x="103.68" y="190.42" width="6.53" height="6.53" fill="#ff8088"/>
<rect x="110.16" y="190.42" width="6.53" height="6.53" fill="#ff8088"/>
<rect x="116.64" y="190.42" width="6.53" height="6.53" fill="#5a48e6"/>
<rect x="123.12" y="190.42" width="6.53" height="6.53" fill="#8c8cff"/>
<rect x="129.6" y="190.42" width="6.53" height="6.53" fill="#2a00c4"/>
<rect x="136.08" y="190.42" width="6.53" height="6.53" fill="#2a00c4"/>
<rect x="142.56" y="190.42" width="6.53" height="6.53" fill="#dadaff"/>
<rect x="149.04" y="190.42" width="6.53" height="6.53" fill="#dadaff"/>
<rect x="155.52" y="190.42" width="6.53" height="6.53" fill="#ffc8ea"/>
<rect x="162" y="190.42" width="6.53" height="6.53" fill="#dadaff"/>
<rect x="168.48" y="190.42" width="6.53" height="6.53" fill="#8c8cff"/>
<rect x="174.96" y="190.42" width="6.53" height="6.53" fill="#dadaff"/>
<rect x="181.44" y="190.42" width="6.53" height="6.53" fill="#8c8cff"/>
<rect x="187.92" y="190.42" width="6.53" height="6.53" fill="#ffc8ea"/>
<rect x="194.4" y="190.42" width="6.53" height="6.53" fill="#2a00c4"/>
<rect x="200.88" y="190.42" width="6.53" height="6.53" fill="#2a00c4"/>
<rect x="207.36" y="190.42" width="6.53" height="6.53" fill="#2a00c4"/>
<rect x="213.84" y="190.42" width="6.53" height="6.53" fill="#dadaff"/>
<rect x="0" y="196.9" width="6.53" height="6.53" fill="#ff8088"/>
<rect x="6.48" y="196.9" width="6.53" height="6.53" fill="#ff8088"/>
<rect x="12.96" y="196.9" width="6.53" height="6.53" fill="#dadaff"/>
<rect x="19.44" y="196.9" width="6.53" height="6.53" fill="#ffc8ea"/>
<rect x="25.92" y="196.9" width="6.53" height="6.53" fill="#ff8088"/>
<rect x="32.4" y="196.9" width="6.53" height="6.53" fill="#8c8cff"/>
<rect x="38.88" y="196.9" width="6.53" height="6.53" fill="#dadaff"/>
<rect x="45.36" y="196.9" width="6.53" height="6.53" fill="#8c8cff"/>
<rect x="51.84" y="196.9" width="6.53" height="6.53" fill="#8c8cff"/>
<rect x="58.32" y="196.9" width="6.53" height="6.53" fill="#dadaff"/>
<rect x="64.8" y="196.9" width="6.53" height="6.53" fill="#dadaff"/>
<rect x="71.28" y="196.9" width="6.53" height="6.53" fill="#f04848"/>
<rect x="77.76" y="196.9" width="6.53" height="6.53" fill="#5a48e6"/>
<rect x="84.24" y="196.9" width="6.53" height="6.53" fill="#dadaff"/>
<rect x="90.72" y="196.9" width="6.53" height="6.53" fill="#2a00c4"/>
<rect x="97.2" y="196.9" width="6.53" height="6.53" fill="#ff8088"/>
<rect x="103.68" y="196.9" width="6.53" height="6.53" fill="#dc2020"/>
<rect x="110.16" y="196.9" width="6.53" height="6.53" fill="#ffc8ea"/>
<rect x="116.64" y="196.9" width="6.53" height="6.53" fill="#8c8cff"/>
<rect x="123.12" y="196.9" width="6.53" height="6.53" fill="#2a00c4"/>
<rect x="129.6" y="196.9" width="6.53" height="6.53" fill="#ff8088"/>
<rect x="136.08" y="196.9" width="6.53" height="6.53" fill="#dadaff"/>
<rect x="142.56" y="196.9" width="6.53" height="6.53" fill="#2a00c4"/>
<rect x="149.04" y="196.9" width="6.53" height="6.53" fill="#ffc8ea"/>
<rect x="155.52" y="196.9" width="6.53" height="6.53" fill="#dadaff"/>
<rect x="162" y="196.9" width="6.53" height="6.53" fill="#2a00c4"/>
<rect x="168.48" y="196.9" width="6.53" height="6.53" fill="#8c8cff"/>
<rect x="174.96" y="196.9" width="6.53" height="6.53" fill="#2a00c4"/>
<rect x="181.44" y="196.9" width="6.53" height="6.53" fill="#f04848"/>
<rect x="187.92" y="196.9" width="6.53" height="6.53" fill="#2a00c4"/>
<rect x="194.4" y="196.9" width="6.53" height="6.53" fill="#dadaff"/>
<rect x="200.88" y="196.9" width="6.53" height="6.53" fill="#8c8cff"/>
<rect x="207.36" y="196.9" width="6.53" height="6.53" fill="#5a48e6"/>
<rect x="213.84" y="196.9" width="6.53" height="6.53" fill="#8c8cff"/>
<rect x="0" y="203.38" width="6.53" height="6.53" fill="#dc2020"/>
<rect x="6.48" y="203.38" width="6.53" height="6.53" fill="#5a48e6"/>
<rect x="12.96" y="203.38" width="6.53" height="6.53" fill="#dc2020"/>
<rect x="19.44" y="203.38" width="6.53" height="6.53" fill="#ffc8ea"/>
<rect x="25.92" y="203.38" width="6.53" height="6.53" fill="#ffc8ea"/>
<rect x="32.4" y="203.38" width="6.53" height="6.53" fill="#ff8088"/>
<rect x="38.88" y="203.38" width="6.53" height="6.53" fill="#8c8cff"/>
<rect x="45.36" y="203.38" width="6.53" height="6.53" fill="#ffc8ea"/>
<rect x="51.84" y="203.38" width="6.53" height="6.53" fill="#8c8cff"/>
<rect x="58.32" y="203.38" width="6.53" height="6.53" fill="#8c8cff"/>
<rect x="64.8" y="203.38" width="6.53" height="6.53" fill="#ffc8ea"/>
<rect x="71.28" y="203.38" width="6.53" height="6.53" fill="#ffc8ea"/>
<rect x="77.76" y="203.38" width="6.53" height="6.53" fill="#dadaff"/>
<rect x="84.24" y="203.38" width="6.53" height="6.53" fill="#8c8cff"/>
<rect x="90.72" y="203.38" width="6.53" height="6.53" fill="#8c8cff"/>
<rect x="97.2" y="203.38" width="6.53" height="6.53" fill="#ff8088"/>
<rect x="103.68" y="203.38" width="6.53" height="6.53" fill="#ff8088"/>
<rect x="110.16" y="203.38" width="6.53" height="6.53" fill="#ff8088"/>
<rect x="116.64" y="203.38" width="6.53" height="6.53" fill="#ffc8ea"/>
<rect x="123.12" y="203.38" width="6.53" height="6.53" fill="#2a00c4"/>
<rect x="129.6" y="203.38" width="6.53" height="6.53" fill="#5a48e6"/>
<rect x="136.08" y="203.38" width="6.53" height="6.53" fill="#ffc8ea"/>
<rect x="142.56" y="203.38" width="6.53" height="6.53" fill="#ffc8ea"/>
<rect x="149.04" y="203.38" width="6.53" height="6.53" fill="#5a48e6"/>
<rect x="155.52" y="203.38" width="6.53" height="6.53" fill="#2a00c4"/>
<rect x="162" y="203.38" width="6.53" height="6.53" fill="#2a00c4"/>
<rect x="168.48" y="203.38" width="6.53" height="6.53" fill="#5a48e6"/>
<rect x="174.96" y="203.38" width="6.53" height="6.53" fill="#8c8cff"/>
<rect x="181.44" y="203.38" width="6.53" height="6.53" fill="#8c8cff"/>
<rect x="187.92" y="203.38" width="6.53" height="6.53" fill="#ffc8ea"/>
<rect x="194.4" y="203.38" width="6.53" height="6.53" fill="#8c8cff"/>
<rect x="200.88" y="203.38" width="6.53" height="6.53" fill="#dadaff"/>
<rect x="207.36" y="203.38" width="6.53" height="6.53" fill="#2a00c4"/>
<rect x="213.84" y="203.38" width="6.53" height="6.53" fill="#8c8cff"/>
<rect x="0" y="209.86" width="6.53" height="6.53" fill="#dadaff"/>
<rect x="6.48" y="209.86" width="6.53" height="6.53" fill="#ffc8ea"/>
<rect x="12.96" y="209.86" width="6.53" height="6.53" fill="#dadaff"/>
<rect x="19.44" y="209.86" width="6.53" height="6.53" fill="#ffc8ea"/>
<rect x="25.92" y="209.86" width="6.53" height="6.53" fill="#ff8088"/>
<rect x="32.4" y="209.86" width="6.53" height="6.53" fill="#ffc8ea"/>
<rect x="38.88" y="209.86" width="6.53" height="6.53" fill="#dadaff"/>
<rect x="45.36" y="209.86" width="6.53" height="6.53" fill="#dadaff"/>
<rect x="51.84" y="209.86" width="6.53" height="6.53" fill="#8c8cff"/>
<rect x="58.32" y="209.86" width="6.53" height="6.53" fill="#8c8cff"/>
<rect x="64.8" y="209.86" width="6.53" height="6.53" fill="#ffc8ea"/>
<rect x="71.28" y="209.86" width="6.53" height="6.53" fill="#ff8088"/>
<rect x="77.76" y="209.86" width="6.53" height="6.53" fill="#8c8cff"/>
<rect x="84.24" y="209.86" width="6.53" height="6.53" fill="#ffc8ea"/>
<rect x="90.72" y="209.86" width="6.53" height="6.53" fill="#ff8088"/>
<rect x="97.2" y="209.86" width="6.53" height="6.53" fill="#ffc8ea"/>
<rect x="103.68" y="209.86" width="6.53" height="6.53" fill="#dadaff"/>
<rect x="110.16" y="209.86" width="6.53" height="6.53" fill="#dadaff"/>
<rect x="116.64" y="209.86" width="6.53" height="6.53" fill="#8c8cff"/>
<rect x="123.12" y="209.86" width="6.53" height="6.53" fill="#8c8cff"/>
<rect x="129.6" y="209.86" width="6.53" height="6.53" fill="#8c8cff"/>
<rect x="136.08" y="209.86" width="6.53" height="6.53" fill="#2a00c4"/>
<rect x="142.56" y="209.86" width="6.53" height="6.53" fill="#8c8cff"/>
<rect x="149.04" y="209.86" width="6.53" height="6.53" fill="#dc2020"/>
<rect x="155.52" y="209.86" width="6.53" height="6.53" fill="#dadaff"/>
<rect x="162" y="209.86" width="6.53" height="6.53" fill="#5a48e6"/>
<rect x="168.48" y="209.86" width="6.53" height="6.53" fill="#ffc8ea"/>
<rect x="174.96" y="209.86" width="6.53" height="6.53" fill="#8c8cff"/>
<rect x="181.44" y="209.86" width="6.53" height="6.53" fill="#8c8cff"/>
<rect x="187.92" y="209.86" width="6.53" height="6.53" fill="#ffc8ea"/>
<rect x="194.4" y="209.86" width="6.53" height="6.53" fill="#8c8cff"/>
<rect x="200.88" y="209.86" width="6.53" height="6.53" fill="#8c8cff"/>
<rect x="207.36" y="209.86" width="6.53" height="6.53" fill="#5a48e6"/>
<rect x="213.84" y="209.86" width="6.53" height="6.53" fill="#dadaff"/>
<rect x="0" y="216.34" width="6.53" height="6.53" fill="#ffc8ea"/>
<rect x="6.48" y="216.34" width="6.53" height="6.53" fill="#dadaff"/>
<rect x="12.96" y="216.34" width="6.53" height="6.53" fill="#ff8088"/>
<rect x="19.44" y="216.34" width="6.53" height="6.53" fill="#ffc8ea"/>
<rect x="25.92" y="216.34" width="6.53" height="6.53" fill="#ff8088"/>
<rect x="32.4" y="216.34" width="6.53" height="6.53" fill="#8c8cff"/>
<rect x="38.88" y="216.34" width="6.53" height="6.53" fill="#8c8cff"/>
<rect x="45.36" y="216.34" width="6.53" height="6.53" fill="#ffc8ea"/>
<rect x="51.84" y="216.34" width="6.53" height="6.53" fill="#2a00c4"/>
<rect x="58.32" y="216.34" width="6.53" height="6.53" fill="#2a00c4"/>
<rect x="64.8" y="216.34" width="6.53" height="6.53" fill="#dadaff"/>
<rect x="71.28" y="216.34" width="6.53" height="6.53" fill="#ffc8ea"/>
<rect x="77.76" y="216.34" width="6.53" height="6.53" fill="#ffc8ea"/>
<rect x="84.24" y="216.34" width="6.53" height="6.53" fill="#ff8088"/>
<rect x="90.72" y="216.34" width="6.53" height="6.53" fill="#ffc8ea"/>
<rect x="97.2" y="216.34" width="6.53" height="6.53" fill="#ff8088"/>
<rect x="103.68" y="216.34" width="6.53" height="6.53" fill="#f04848"/>
<rect x="110.16" y="216.34" width="6.53" height="6.53" fill="#ffc8ea"/>
<rect x="116.64" y="216.34" width="6.53" height="6.53" fill="#2a00c4"/>
<rect x="123.12" y="216.34" width="6.53" height="6.53" fill="#2a00c4"/>
<rect x="129.6" y="216.34" width="6.53" height="6.53" fill="#dadaff"/>
<rect x="136.08" y="216.34" width="6.53" height="6.53" fill="#ffc8ea"/>
<rect x="142.56" y="216.34" width="6.53" height="6.53" fill="#ff8088"/>
<rect x="149.04" y="216.34" width="6.53" height="6.53" fill="#ff8088"/>
<rect x="155.52" y="216.34" width="6.53" height="6.53" fill="#dc2020"/>
<rect x="162" y="216.34" width="6.53" height="6.53" fill="#2a00c4"/>
<rect x="168.48" y="216.34" width="6.53" height="6.53" fill="#dadaff"/>
<rect x="174.96" y="216.34" width="6.53" height="6.53" fill="#2a00c4"/>
<rect x="181.44" y="216.34" width="6.53" height="6.53" fill="#ffc8ea"/>
<rect x="187.92" y="216.34" width="6.53" height="6.53" fill="#8c8cff"/>
<rect x="194.4" y="216.34" width="6.53" height="6.53" fill="#dadaff"/>
<rect x="200.88" y="216.34" width="6.53" height="6.53" fill="#8c8cff"/>
<rect x="207.36" y="216.34" width="6.53" height="6.53" fill="#2a00c4"/>
<rect x="213.84" y="216.34" width="6.53" height="6.53" fill="#ffc8ea"/>
<rect x="0" y="222.82" width="6.53" height="6.53" fill="#ff8088"/>
<rect x="6.48" y="222.82" width="6.53" height="6.53" fill="#ff8088"/>
<rect x="12.96" y="222.82" width="6.53" height="6.53" fill="#dc2020"/>
<rect x="19.44" y="222.82" width="6.53" height="6.53" fill="#dadaff"/>
<rect x="25.92" y="222.82" width="6.53" height="6.53" fill="#f04848"/>
<rect x="32.4" y="222.82" width="6.53" height="6.53" fill="#ffc8ea"/>
<rect x="38.88" y="222.82" width="6.53" height="6.53" fill="#dadaff"/>
<rect x="45.36" y="222.82" width="6.53" height="6.53" fill="#ffc8ea"/>
<rect x="51.84" y="222.82" width="6.53" height="6.53" fill="#ff8088"/>
<rect x="58.32" y="222.82" width="6.53" height="6.53" fill="#dadaff"/>
<rect x="64.8" y="222.82" width="6.53" height="6.53" fill="#ff8088"/>
<rect x="71.28" y="222.82" width="6.53" height="6.53" fill="#ffc8ea"/>
<rect x="77.76" y="222.82" width="6.53" height="6.53" fill="#2a00c4"/>
<rect x="84.24" y="222.82" width="6.53" height="6.53" fill="#8c8cff"/>
<rect x="90.72" y="222.82" width="6.53" height="6.53" fill="#dadaff"/>
<rect x="97.2" y="222.82" width="6.53" height="6.53" fill="#ffc8ea"/>
<rect x="103.68" y="222.82" width="6.53" height="6.53" fill="#f04848"/>
<rect x="110.16" y="222.82" width="6.53" height="6.53" fill="#ff8088"/>
<rect x="116.64" y="222.82" width="6.53" height="6.53" fill="#8c8cff"/>
<rect x="123.12" y="222.82" width="6.53" height="6.53" fill="#2a00c4"/>
<rect x="129.6" y="222.82" width="6.53" height="6.53" fill="#8c8cff"/>
<rect x="136.08" y="222.82" width="6.53" height="6.53" fill="#8c8cff"/>
<rect x="142.56" y="222.82" width="6.53" height="6.53" fill="#2a00c4"/>
<rect x="149.04" y="222.82" width="6.53" height="6.53" fill="#ff8088"/>
<rect x="155.52" y="222.82" width="6.53" height="6.53" fill="#2a00c4"/>
<rect x="162" y="222.82" width="6.53" height="6.53" fill="#2a00c4"/>
<rect x="168.48" y="222.82" width="6.53" height="6.53" fill="#2a00c4"/>
<rect x="174.96" y="222.82" width="6.53" height="6.53" fill="#ff8088"/>
<rect x="181.44" y="222.82" width="6.53" height="6.53" fill="#dadaff"/>
<rect x="187.92" y="222.82" width="6.53" height="6.53" fill="#ff8088"/>
<rect x="194.4" y="222.82" width="6.53" height="6.53" fill="#2a00c4"/>
<rect x="200.88" y="222.82" width="6.53" height="6.53" fill="#8c8cff"/>
<rect x="207.36" y="222.82" width="6.53" height="6.53" fill="#2a00c4"/>
<rect x="213.84" y="222.82" width="6.53" height="6.53" fill="#ff8088"/>
<rect x="0" y="229.3" width="6.53" height="6.53" fill="#8c8cff"/>
<rect x="6.48" y="229.3" width="6.53" height="6.53" fill="#ffc8ea"/>
<rect x="12.96" y="229.3" width="6.53" height="6.53" fill="#8c8cff"/>
<rect x="19.44" y="229.3" width="6.53" height="6.53" fill="#8c8cff"/>
<rect x="25.92" y="229.3" width="6.53" height="6.53" fill="#f04848"/>
<rect x="32.4" y="229.3" width="6.53" height="6.53" fill="#dadaff"/>
<rect x="38.88" y="229.3" width="6.53" height="6.53" fill="#8c8cff"/>
<rect x="45.36" y="229.3" width="6.53" height="6.53" fill="#8c8cff"/>
<rect x="51.84" y="229.3" width="6.53" height="6.53" fill="#ff8088"/>
<rect x="58.32" y="229.3" width="6.53" height="6.53" fill="#ff8088"/>
<rect x="64.8" y="229.3" width="6.53" height="6.53" fill="#dadaff"/>
<rect x="71.28" y="229.3" width="6.53" height="6.53" fill="#dadaff"/>
<rect x="77.76" y="229.3" width="6.53" height="6.53" fill="#8c8cff"/>
<rect x="84.24" y="229.3" width="6.53" height="6.53" fill="#2a00c4"/>
<rect x="90.72" y="229.3" width="6.53" height="6.53" fill="#ff8088"/>
<rect x="97.2" y="229.3" width="6.53" height="6.53" fill="#dc2020"/>
<rect x="103.68" y="229.3" width="6.53" height="6.53" fill="#ffc8ea"/>
<rect x="110.16" y="229.3" width="6.53" height="6.53" fill="#ff8088"/>
<rect x="116.64" y="229.3" width="6.53" height="6.53" fill="#2a00c4"/>
<rect x="123.12" y="229.3" width="6.53" height="6.53" fill="#8c8cff"/>
<rect x="129.6" y="229.3" width="6.53" height="6.53" fill="#8c8cff"/>
<rect x="136.08" y="229.3" width="6.53" height="6.53" fill="#8c8cff"/>
<rect x="142.56" y="229.3" width="6.53" height="6.53" fill="#8c8cff"/>
<rect x="149.04" y="229.3" width="6.53" height="6.53" fill="#dc2020"/>
<rect x="155.52" y="229.3" width="6.53" height="6.53" fill="#ffc8ea"/>
<rect x="162" y="229.3" width="6.53" height="6.53" fill="#dadaff"/>
<rect x="168.48" y="229.3" width="6.53" height="6.53" fill="#2a00c4"/>
<rect x="174.96" y="229.3" width="6.53" height="6.53" fill="#ff8088"/>
<rect x="181.44" y="229.3" width="6.53" height="6.53" fill="#ff8088"/>
<rect x="187.92" y="229.3" width="6.53" height="6.53" fill="#ffc8ea"/>
<rect x="194.4" y="229.3" width="6.53" height="6.53" fill="#dadaff"/>
<rect x="200.88" y="229.3" width="6.53" height="6.53" fill="#ff8088"/>
<rect x="207.36" y="229.3" width="6.53" height="6.53" fill="#2a00c4"/>
<rect x="213.84" y="229.3" width="6.53" height="6.53" fill="#ffc8ea"/>
<rect x="0" y="235.78" width="6.53" height="6.53" fill="#f04848"/>
<rect x="6.48" y="235.78" width="6.53" height="6.53" fill="#f04848"/>
<rect x="12.96" y="235.78" width="6.53" height="6.53" fill="#dadaff"/>
<rect x="19.44" y="235.78" width="6.53" height="6.53" fill="#f04848"/>
<rect x="25.92" y="235.78" width="6.53" height="6.53" fill="#dc2020"/>
<rect x="32.4" y="235.78" width="6.53" height="6.53" fill="#8c8cff"/>
<rect x="38.88" y="235.78" width="6.53" height="6.53" fill="#2a00c4"/>
<rect x="45.36" y="235.78" width="6.53" height="6.53" fill="#dadaff"/>
<rect x="51.84" y="235.78" width="6.53" height="6.53" fill="#2a00c4"/>
<rect x="58.32" y="235.78" width="6.53" height="6.53" fill="#8c8cff"/>
<rect x="64.8" y="235.78" width="6.53" height="6.53" fill="#2a00c4"/>
<rect x="71.28" y="235.78" width="6.53" height="6.53" fill="#8c8cff"/>
<rect x="77.76" y="235.78" width="6.53" height="6.53" fill="#ff8088"/>
<rect x="84.24" y="235.78" width="6.53" height="6.53" fill="#2a00c4"/>
<rect x="90.72" y="235.78" width="6.53" height="6.53" fill="#ff8088"/>
<rect x="97.2" y="235.78" width="6.53" height="6.53" fill="#dc2020"/>
<rect x="103.68" y="235.78" width="6.53" height="6.53" fill="#2a00c4"/>
<rect x="110.16" y="235.78" width="6.53" height="6.53" fill="#ffc8ea"/>
<rect x="116.64" y="235.78" width="6.53" height="6.53" fill="#8c8cff"/>
<rect x="123.12" y="235.78" width="6.53" height="6.53" fill="#2a00c4"/>
<rect x="129.6" y="235.78" width="6.53" height="6.53" fill="#2a00c4"/>
<rect x="136.08" y="235.78" width="6.53" height="6.53" fill="#8c8cff"/>
<rect x="142.56" y="235.78" width="6.53" height="6.53" fill="#ff8088"/>
<rect x="149.04" y="235.78" width="6.53" height="6.53" fill="#f04848"/>
<rect x="155.52" y="235.78" width="6.53" height="6.53" fill="#2a00c4"/>
<rect x="162" y="235.78" width="6.53" height="6.53" fill="#8c8cff"/>
<rect x="168.48" y="235.78" width="6.53" height="6.53" fill="#2a00c4"/>
<rect x="174.96" y="235.78" width="6.53" height="6.53" fill="#2a00c4"/>
<rect x="181.44" y="235.78" width="6.53" height="6.53" fill="#2a00c4"/>
<rect x="187.92" y="235.78" width="6.53" height="6.53" fill="#dc2020"/>
<rect x="194.4" y="235.78" width="6.53" height="6.53" fill="#8c8cff"/>
<rect x="200.88" y="235.78" width="6.53" height="6.53" fill="#ff8088"/>
<rect x="207.36" y="235.78" width="6.53" height="6.53" fill="#2a00c4"/>
<rect x="213.84" y="235.78" width="6.53" height="6.53" fill="#2a00c4"/>
<rect x="0" y="242.26" width="6.53" height="6.53" fill="#ffc8ea"/>
<rect x="6.48" y="242.26" width="6.53" height="6.53" fill="#ff8088"/>
<rect x="12.96" y="242.26" width="6.53" height="6.53" fill="#ff8088"/>
<rect x="19.44" y="242.26" width="6.53" height="6.53" fill="#ff8088"/>
<rect x="25.92" y="242.26" width="6.53" height="6.53" fill="#dc2020"/>
<rect x="32.4" y="242.26" width="6.53" height="6.53" fill="#ff8088"/>
<rect x="38.88" y="242.26" width="6.53" height="6.53" fill="#dadaff"/>
<rect x="45.36" y="242.26" width="6.53" height="6.53" fill="#2a00c4"/>
<rect x="51.84" y="242.26" width="6.53" height="6.53" fill="#ffc8ea"/>
<rect x="58.32" y="242.26" width="6.53" height="6.53" fill="#ffc8ea"/>
<rect x="64.8" y="242.26" width="6.53" height="6.53" fill="#8c8cff"/>
<rect x="71.28" y="242.26" width="6.53" height="6.53" fill="#ff8088"/>
<rect x="77.76" y="242.26" width="6.53" height="6.53" fill="#5a48e6"/>
<rect x="84.24" y="242.26" width="6.53" height="6.53" fill="#ff8088"/>
<rect x="90.72" y="242.26" width="6.53" height="6.53" fill="#ffc8ea"/>
<rect x="97.2" y="242.26" width="6.53" height="6.53" fill="#ff8088"/>
<rect x="103.68" y="242.26" width="6.53" height="6.53" fill="#8c8cff"/>
<rect x="110.16" y="242.26" width="6.53" height="6.53" fill="#8c8cff"/>
<rect x="116.64" y="242.26" width="6.53" height="6.53" fill="#2a00c4"/>
<rect x="123.12" y="242.26" width="6.53" height="6.53" fill="#ffc8ea"/>
<rect x="129.6" y="242.26" width="6.53" height="6.53" fill="#2a00c4"/>
<rect x="136.08" y="242.26" width="6.53" height="6.53" fill="#2a00c4"/>
<rect x="142.56" y="242.26" width="6.53" height="6.53" fill="#2a00c4"/>
<rect x="149.04" y="242.26" width="6.53" height="6.53" fill="#ff8088"/>
<rect x="155.52" y="242.26" width="6.53" height="6.53" fill="#ffc8ea"/>
<rect x="162" y="242.26" width="6.53" height="6.53" fill="#8c8cff"/>
<rect x="168.48" y="242.26" width="6.53" height="6.53" fill="#ff8088"/>
<rect x="174.96" y="242.26" width="6.53" height="6.53" fill="#8c8cff"/>
<rect x="181.44" y="242.26" width="6.53" height="6.53" fill="#5a48e6"/>
<rect x="187.92" y="242.26" width="6.53" height="6.53" fill="#ff8088"/>
<rect x="194.4" y="242.26" width="6.53" height="6.53" fill="#8c8cff"/>
<rect x="200.88" y="242.26" width="6.53" height="6.53" fill="#2a00c4"/>
<rect x="207.36" y="242.26" width="6.53" height="6.53" fill="#2a00c4"/>
<rect x="213.84" y="242.26" width="6.53" height="6.53" fill="#f04848"/>
<rect x="0" y="248.74" width="6.53" height="6.53" fill="#dadaff"/>
<rect x="6.48" y="248.74" width="6.53" height="6.53" fill="#ff8088"/>
<rect x="12.96" y="248.74" width="6.53" height="6.53" fill="#8c8cff"/>
<rect x="19.44" y="248.74" width="6.53" height="6.53" fill="#ffc8ea"/>
<rect x="25.92" y="248.74" width="6.53" height="6.53" fill="#dc2020"/>
<rect x="32.4" y="248.74" width="6.53" height="6.53" fill="#ffc8ea"/>
<rect x="38.88" y="248.74" width="6.53" height="6.53" fill="#ffc8ea"/>
<rect x="45.36" y="248.74" width="6.53" height="6.53" fill="#8c8cff"/>
<rect x="51.84" y="248.74" width="6.53" height="6.53" fill="#8c8cff"/>
<rect x="58.32" y="248.74" width="6.53" height="6.53" fill="#ffc8ea"/>
<rect x="64.8" y="248.74" width="6.53" height="6.53" fill="#dadaff"/>
<rect x="71.28" y="248.74" width="6.53" height="6.53" fill="#ffc8ea"/>
<rect x="77.76" y="248.74" width="6.53" height="6.53" fill="#8c8cff"/>
<rect x="84.24" y="248.74" width="6.53" height="6.53" fill="#8c8cff"/>
<rect x="90.72" y="248.74" width="6.53" height="6.53" fill="#2a00c4"/>
<rect x="97.2" y="248.74" width="6.53" height="6.53" fill="#ffc8ea"/>
<rect x="103.68" y="248.74" width="6.53" height="6.53" fill="#dadaff"/>
<rect x="110.16" y="248.74" width="6.53" height="6.53" fill="#dadaff"/>
<rect x="116.64" y="248.74" width="6.53" height="6.53" fill="#2a00c4"/>
<rect x="123.12" y="248.74" width="6.53" height="6.53" fill="#ffc8ea"/>
<rect x="129.6" y="248.74" width="6.53" height="6.53" fill="#ffc8ea"/>
<rect x="136.08" y="248.74" width="6.53" height="6.53" fill="#2a00c4"/>
<rect x="142.56" y="248.74" width="6.53" height="6.53" fill="#8c8cff"/>
<rect x="149.04" y="248.74" width="6.53" height="6.53" fill="#ff8088"/>
<rect x="155.52" y="248.74" width="6.53" height="6.53" fill="#dadaff"/>
<rect x="162" y="248.74" width="6.53" height="6.53" fill="#2a00c4"/>
<rect x="168.48" y="248.74" width="6.53" height="6.53" fill="#ffc8ea"/>
<rect x="174.96" y="248.74" width="6.53" height="6.53" fill="#dadaff"/>
<rect x="181.44" y="248.74" width="6.53" height="6.53" fill="#2a00c4"/>
<rect x="187.92" y="248.74" width="6.53" height="6.53" fill="#2a00c4"/>
<rect x="194.4" y="248.74" width="6.53" height="6.53" fill="#dadaff"/>
<rect x="200.88" y="248.74" width="6.53" height="6.53" fill="#8c8cff"/>
<rect x="207.36" y="248.74" width="6.53" height="6.53" fill="#2a00c4"/>
<rect x="213.84" y="248.74" width="6.53" height="6.53" fill="#ff8088"/>
<rect x="0" y="255.22" width="6.53" height="6.53" fill="#8c8cff"/>
<rect x="6.48" y="255.22" width="6.53" height="6.53" fill="#ff8088"/>
<rect x="12.96" y="255.22" width="6.53" height="6.53" fill="#dadaff"/>
<rect x="19.44" y="255.22" width="6.53" height="6.53" fill="#ff8088"/>
<rect x="25.92" y="255.22" width="6.53" height="6.53" fill="#dc2020"/>
<rect x="32.4" y="255.22" width="6.53" height="6.53" fill="#ffc8ea"/>
<rect x="38.88" y="255.22" width="6.53" height="6.53" fill="#ffc8ea"/>
<rect x="45.36" y="255.22" width="6.53" height="6.53" fill="#8c8cff"/>
<rect x="51.84" y="255.22" width="6.53" height="6.53" fill="#dadaff"/>
<rect x="58.32" y="255.22" width="6.53" height="6.53" fill="#dadaff"/>
<rect x="64.8" y="255.22" width="6.53" height="6.53" fill="#ff8088"/>
<rect x="71.28" y="255.22" width="6.53" height="6.53" fill="#ff8088"/>
<rect x="77.76" y="255.22" width="6.53" height="6.53" fill="#ffc8ea"/>
<rect x="84.24" y="255.22" width="6.53" height="6.53" fill="#ff8088"/>
<rect x="90.72" y="255.22" width="6.53" height="6.53" fill="#8c8cff"/>
<rect x="97.2" y="255.22" width="6.53" height="6.53" fill="#ff8088"/>
<rect x="103.68" y="255.22" width="6.53" height="6.53" fill="#8c8cff"/>
<rect x="110.16" y="255.22" width="6.53" height="6.53" fill="#ffc8ea"/>
<rect x="116.64" y="255.22" width="6.53" height="6.53" fill="#2a00c4"/>
<rect x="123.12" y="255.22" width="6.53" height="6.53" fill="#ffc8ea"/>
<rect x="129.6" y="255.22" width="6.53" height="6.53" fill="#2a00c4"/>
<rect x="136.08" y="255.22" width="6.53" height="6.53" fill="#5a48e6"/>
<rect x="142.56" y="255.22" width="6.53" height="6.53" fill="#dadaff"/>
<rect x="149.04" y="255.22" width="6.53" height="6.53" fill="#ff8088"/>
<rect x="155.52" y="255.22" width="6.53" height="6.53" fill="#ff8088"/>
<rect x="162" y="255.22" width="6.53" height="6.53" fill="#8c8cff"/>
<rect x="168.48" y="255.22" width="6.53" height="6.53" fill="#ffc8ea"/>
<rect x="174.96" y="255.22" width="6.53" height="6.53" fill="#8c8cff"/>
<rect x="181.44" y="255.22" width="6.53" height="6.53" fill="#8c8cff"/>
<rect x="187.92" y="255.22" width="6.53" height="6.53" fill="#ffc8ea"/>
<rect x="194.4" y="255.22" width="6.53" height="6.53" fill="#8c8cff"/>
<rect x="200.88" y="255.22" width="6.53" height="6.53" fill="#2a00c4"/>
<rect x="207.36" y="255.22" width="6.53" height="6.53" fill="#8c8cff"/>
<rect x="213.84" y="255.22" width="6.53" height="6.53" fill="#f04848"/>
<rect x="0" y="261.7" width="6.53" height="6.53" fill="#ffc8ea"/>
<rect x="6.48" y="261.7" width="6.53" height="6.53" fill="#ffc8ea"/>
<rect x="12.96" y="261.7" width="6.53" height="6.53" fill="#ff8088"/>
<rect x="19.44" y="261.7" width="6.53" height="6.53" fill="#ffc8ea"/>
<rect x="25.92" y="261.7" width="6.53" height="6.53" fill="#dc2020"/>
<rect x="32.4" y="261.7" width="6.53" height="6.53" fill="#8c8cff"/>
<rect x="38.88" y="261.7" width="6.53" height="6.53" fill="#ff8088"/>
<rect x="45.36" y="261.7" width="6.53" height="6.53" fill="#ff8088"/>
<rect x="51.84" y="261.7" width="6.53" height="6.53" fill="#ff8088"/>
<rect x="58.32" y="261.7" width="6.53" height="6.53" fill="#ffc8ea"/>
<rect x="64.8" y="261.7" width="6.53" height="6.53" fill="#ffc8ea"/>
<rect x="71.28" y="261.7" width="6.53" height="6.53" fill="#ffc8ea"/>
<rect x="77.76" y="261.7" width="6.53" height="6.53" fill="#f04848"/>
<rect x="84.24" y="261.7" width="6.53" height="6.53" fill="#8c8cff"/>
<rect x="90.72" y="261.7" width="6.53" height="6.53" fill="#ffc8ea"/>
<rect x="97.2" y="261.7" width="6.53" height="6.53" fill="#ff8088"/>
<rect x="103.68" y="261.7" width="6.53" height="6.53" fill="#8c8cff"/>
<rect x="110.16" y="261.7" width="6.53" height="6.53" fill="#ff8088"/>
<rect x="116.64" y="261.7" width="6.53" height="6.53" fill="#2a00c4"/>
<rect x="123.12" y="261.7" width="6.53" height="6.53" fill="#2a00c4"/>
<rect x="129.6" y="261.7" width="6.53" height="6.53" fill="#2a00c4"/>
<rect x="136.08" y="261.7" width="6.53" height="6.53" fill="#dadaff"/>
<rect x="142.56" y="261.7" width="6.53" height="6.53" fill="#dadaff"/>
<rect x="149.04" y="261.7" width="6.53" height="6.53" fill="#ff8088"/>
<rect x="155.52" y="261.7" width="6.53" height="6.53" fill="#2a00c4"/>
<rect x="162" y="261.7" width="6.53" height="6.53" fill="#dadaff"/>
<rect x="168.48" y="261.7" width="6.53" height="6.53" fill="#2a00c4"/>
<rect x="174.96" y="261.7" width="6.53" height="6.53" fill="#dadaff"/>
<rect x="181.44" y="261.7" width="6.53" height="6.53" fill="#5a48e6"/>
<rect x="187.92" y="261.7" width="6.53" height="6.53" fill="#ff8088"/>
<rect x="194.4" y="261.7" width="6.53" height="6.53" fill="#8c8cff"/>
<rect x="200.88" y="261.7" width="6.53" height="6.53" fill="#ffc8ea"/>
<rect x="207.36" y="261.7" width="6.53" height="6.53" fill="#2a00c4"/>
<rect x="213.84" y="261.7" width="6.53" height="6.53" fill="#f04848"/>
<rect x="0" y="268.18" width="6.53" height="6.53" fill="#8c8cff"/>
<rect x="6.48" y="268.18" width="6.53" height="6.53" fill="#ffc8ea"/>
<rect x="12.96" y="268.18" width="6.53" height="6.53" fill="#ffc8ea"/>
<rect x="19.44" y="268.18" width="6.53" height="6.53" fill="#5a48e6"/>
<rect x="25.92" y="268.18" width="6.53" height="6.53" fill="#ff8088"/>
<rect x="32.4" y="268.18" width="6.53" height="6.53" fill="#2a00c4"/>
<rect x="38.88" y="268.18" width="6.53" height="6.53" fill="#8c8cff"/>
<rect x="45.36" y="268.18" width="6.53" height="6.53" fill="#dadaff"/>
<rect x="51.84" y="268.18" width="6.53" height="6.53" fill="#8c8cff"/>
<rect x="58.32" y="268.18" width="6.53" height="6.53" fill="#8c8cff"/>
<rect x="64.8" y="268.18" width="6.53" height="6.53" fill="#ff8088"/>
<rect x="71.28" y="268.18" width="6.53" height="6.53" fill="#f04848"/>
<rect x="77.76" y="268.18" width="6.53" height="6.53" fill="#2a00c4"/>
<rect x="84.24" y="268.18" width="6.53" height="6.53" fill="#5a48e6"/>
<rect x="90.72" y="268.18" width="6.53" height="6.53" fill="#dadaff"/>
<rect x="97.2" y="268.18" width="6.53" height="6.53" fill="#f04848"/>
<rect x="103.68" y="268.18" width="6.53" height="6.53" fill="#ff8088"/>
<rect x="110.16" y="268.18" width="6.53" height="6.53" fill="#ff8088"/>
<rect x="116.64" y="268.18" width="6.53" height="6.53" fill="#2a00c4"/>
<rect x="123.12" y="268.18" width="6.53" height="6.53" fill="#2a00c4"/>
<rect x="129.6" y="268.18" width="6.53" height="6.53" fill="#dadaff"/>
<rect x="136.08" y="268.18" width="6.53" height="6.53" fill="#8c8cff"/>
<rect x="142.56" y="268.18" width="6.53" height="6.53" fill="#dadaff"/>
<rect x="149.04" y="268.18" width="6.53" height="6.53" fill="#ff8088"/>
<rect x="155.52" y="268.18" width="6.53" height="6.53" fill="#ffc8ea"/>
<rect x="162" y="268.18" width="6.53" height="6.53" fill="#8c8cff"/>
<rect x="168.48" y="268.18" width="6.53" height="6.53" fill="#8c8cff"/>
<rect x="174.96" y="268.18" width="6.53" height="6.53" fill="#8c8cff"/>
<rect x="181.44" y="268.18" width="6.53" height="6.53" fill="#dc2020"/>
<rect x="187.92" y="268.18" width="6.53" height="6.53" fill="#ff8088"/>
<rect x="194.4" y="268.18" width="6.53" height="6.53" fill="#dadaff"/>
<rect x="200.88" y="268.18" width="6.53" height="6.53" fill="#dadaff"/>
<rect x="207.36" y="268.18" width="6.53" height="6.53" fill="#5a48e6"/>
<rect x="213.84" y="268.18" width="6.53" height="6.53" fill="#ff8088"/>
<rect x="0" y="274.66" width="6.53" height="6.53" fill="#ffc8ea"/>
<rect x="6.48" y="274.66" width="6.53" height="6.53" fill="#ffc8ea"/>
<rect x="12.96" y="274.66" width="6.53" height="6.53" fill="#dadaff"/>
<rect x="19.44" y="274.66" width="6.53" height="6.53" fill="#5a48e6"/>
<rect x="25.92" y="274.66" width="6.53" height="6.53" fill="#ff8088"/>
<rect x="32.4" y="274.66" width="6.53" height="6.53" fill="#8c8cff"/>
<rect x="38.88" y="274.66" width="6.53" height="6.53" fill="#dadaff"/>
<rect x="45.36" y="274.66" width="6.53" height="6.53" fill="#2a00c4"/>
<rect x="51.84" y="274.66" width="6.53" height="6.53" fill="#ffc8ea"/>
<rect x="58.32" y="274.66" width="6.53" height="6.53" fill="#8c8cff"/>
<rect x="64.8" y="274.66" width="6.53" height="6.53" fill="#8c8cff"/>
<rect x="71.28" y="274.66" width="6.53" height="6.53" fill="#dadaff"/>
<rect x="77.76" y="274.66" width="6.53" height="6.53" fill="#8c8cff"/>
<rect x="84.24" y="274.66" width="6.53" height="6.53" fill="#ffc8ea"/>
<rect x="90.72" y="274.66" width="6.53" height="6.53" fill="#dadaff"/>
<rect x="97.2" y="274.66" width="6.53" height="6.53" fill="#dc2020"/>
<rect x="103.68" y="274.66" width="6.53" height="6.53" fill="#8c8cff"/>
<rect x="110.16" y="274.66" width="6.53" height="6.53" fill="#dadaff"/>
<rect x="116.64" y="274.66" width="6.53" height="6.53" fill="#8c8cff"/>
<rect x="123.12" y="274.66" width="6.53" height="6.53" fill="#2a00c4"/>
<rect x="129.6" y="274.66" width="6.53" height="6.53" fill="#2a00c4"/>
<rect x="136.08" y="274.66" width="6.53" height="6.53" fill="#2a00c4"/>
<rect x="142.56" y="274.66" width="6.53" height="6.53" fill="#2a00c4"/>
<rect x="149.04" y="274.66" width="6.53" height="6.53" fill="#f04848"/>
<rect x="155.52" y="274.66" width="6.53" height="6.53" fill="#2a00c4"/>
<rect x="162" y="274.66" width="6.53" height="6.53" fill="#8c8cff"/>
<rect x="168.48" y="274.66" width="6.53" height="6.53" fill="#8c8cff"/>
<rect x="174.96" y="274.66" width="6.53" height="6.53" fill="#8c8cff"/>
<rect x="181.44" y="274.66" width="6.53" height="6.53" fill="#2a00c4"/>
<rect x="187.92" y="274.66" width="6.53" height="6.53" fill="#ffc8ea"/>
<rect x="194.4" y="274.66" width="6.53" height="6.53" fill="#2a00c4"/>
<rect x="200.88" y="274.66" width="6.53" height="6.53" fill="#dc2020"/>
<rect x="207.36" y="274.66" width="6.53" height="6.53" fill="#ff8088"/>
<rect x="213.84" y="274.66" width="6.53" height="6.53" fill="#f04848"/>
<rect x="0" y="281.14" width="6.53" height="6.53" fill="#ff8088"/>
<rect x="6.48" y="281.14" width="6.53" height="6.53" fill="#ff8088"/>
<rect x="12.96" y="281.14" width="6.53" height="6.53" fill="#5a48e6"/>
<rect x="19.44" y="281.14" width="6.53" height="6.53" fill="#dadaff"/>
<rect x="25.92" y="281.14" width="6.53" height="6.53" fill="#dadaff"/>
<rect x="32.4" y="281.14" width="6.53" height="6.53" fill="#5a48e6"/>
<rect x="38.88" y="281.14" width="6.53" height="6.53" fill="#8c8cff"/>
<rect x="45.36" y="281.14" width="6.53" height="6.53" fill="#8c8cff"/>
<rect x="51.84" y="281.14" width="6.53" height="6.53" fill="#ffc8ea"/>
<rect x="58.32" y="281.14" width="6.53" height="6.53" fill="#ff8088"/>
<rect x="64.8" y="281.14" width="6.53" height="6.53" fill="#8c8cff"/>
<rect x="71.28" y="281.14" width="6.53" height="6.53" fill="#ffc8ea"/>
<rect x="77.76" y="281.14" width="6.53" height="6.53" fill="#8c8cff"/>
<rect x="84.24" y="281.14" width="6.53" height="6.53" fill="#8c8cff"/>
<rect x="90.72" y="281.14" width="6.53" height="6.53" fill="#ffc8ea"/>
<rect x="97.2" y="281.14" width="6.53" height="6.53" fill="#dadaff"/>
<rect x="103.68" y="281.14" width="6.53" height="6.53" fill="#8c8cff"/>
<rect x="110.16" y="281.14" width="6.53" height="6.53" fill="#8c8cff"/>
<rect x="116.64" y="281.14" width="6.53" height="6.53" fill="#2a00c4"/>
<rect x="123.12" y="281.14" width="6.53" height="6.53" fill="#8c8cff"/>
<rect x="129.6" y="281.14" width="6.53" height="6.53" fill="#ffc8ea"/>
<rect x="136.08" y="281.14" width="6.53" height="6.53" fill="#2a00c4"/>
<rect x="142.56" y="281.14" width="6.53" height="6.53" fill="#8c8cff"/>
<rect x="149.04" y="281.14" width="6.53" height="6.53" fill="#ff8088"/>
<rect x="155.52" y="281.14" width="6.53" height="6.53" fill="#dadaff"/>
<rect x="162" y="281.14" width="6.53" height="6.53" fill="#8c8cff"/>
<rect x="168.48" y="281.14" width="6.53" height="6.53" fill="#dadaff"/>
<rect x="174.96" y="281.14" width="6.53" height="6.53" fill="#5a48e6"/>
<rect x="181.44" y="281.14" width="6.53" height="6.53" fill="#ff8088"/>
<rect x="187.92" y="281.14" width="6.53" height="6.53" fill="#8c8cff"/>
<rect x="194.4" y="281.14" width="6.53" height="6.53" fill="#dadaff"/>
<rect x="200.88" y="281.14" width="6.53" height="6.53" fill="#dc2020"/>
<rect x="207.36" y="281.14" width="6.53" height="6.53" fill="#f04848"/>
<rect x="213.84" y="281.14" width="6.53" height="6.53" fill="#dc2020"/>
<path d="M0 99.7V287.62M6.48 99.7V287.62M12.96 99.7V287.62M19.44 99.7V287.62M25.92 99.7V287.62M32.4 99.7V287.62M38.88 99.7V287.62M45.36 99.7V287.62M51.84 99.7V287.62M58.32 99.7V287.62M64.8 99.7V287.62M71.28 99.7V287.62M77.76 99.7V287.62M84.24 99.7V287.62M90.72 99.7V287.62M97.2 99.7V287.62M103.68 99.7V287.62M110.16 99.7V287.62M116.64 99.7V287.62M123.12 99.7V287.62M129.6 99.7V287.62M136.08 99.7V287.62M142.56 99.7V287.62M149.04 99.7V287.62M155.52 99.7V287.62M162 99.7V287.62M168.48 99.7V287.62M174.96 99.7V287.62M181.44 99.7V287.62M187.92 99.7V287.62M194.4 99.7V287.62M200.88 99.7V287.62M207.36 99.7V287.62M213.84 99.7V287.62M220.32 99.7V287.62M0 99.7H220.32M0 106.18H220.32M0 112.66H220.32M0 119.14H220.32M0 125.62H220.32M0 132.1H220.32M0 138.58H220.32M0 145.06H220.32M0 151.54H220.32M0 158.02H220.32M0 164.5H220.32M0 170.98H220.32M0 177.46H220.32M0 183.94H220.32M0 190.42H220.32M0 196.9H220.32M0 203.38H220.32M0 209.86H220.32M0 216.34H220.32M0 222.82H220.32M0 229.3H220.32M0 235.78H220.32M0 242.26H220.32M0 248.74H220.32M0 255.22H220.32M0 261.7H220.32M0 268.18H220.32M0 274.66H220.32M0 281.14H220.32M0 287.62H220.32" stroke="#0c0c1c" stroke-width="1.9" stroke-opacity="0.3" fill="none"/>
<path d="M0 99.7V287.62M6.48 99.7V287.62M12.96 99.7V287.62M19.44 99.7V287.62M25.92 99.7V287.62M32.4 99.7V287.62M38.88 99.7V287.62M45.36 99.7V287.62M51.84 99.7V287.62M58.32 99.7V287.62M64.8 99.7V287.62M71.28 99.7V287.62M77.76 99.7V287.62M84.24 99.7V287.62M90.72 99.7V287.62M97.2 99.7V287.62M103.68 99.7V287.62M110.16 99.7V287.62M116.64 99.7V287.62M123.12 99.7V287.62M129.6 99.7V287.62M136.08 99.7V287.62M142.56 99.7V287.62M149.04 99.7V287.62M155.52 99.7V287.62M162 99.7V287.62M168.48 99.7V287.62M174.96 99.7V287.62M181.44 99.7V287.62M187.92 99.7V287.62M194.4 99.7V287.62M200.88 99.7V287.62M207.36 99.7V287.62M213.84 99.7V287.62M220.32 99.7V287.62M0 99.7H220.32M0 106.18H220.32M0 112.66H220.32M0 119.14H220.32M0 125.62H220.32M0 132.1H220.32M0 138.58H220.32M0 145.06H220.32M0 151.54H220.32M0 158.02H220.32M0 164.5H220.32M0 170.98H220.32M0 177.46H220.32M0 183.94H220.32M0 190.42H220.32M0 196.9H220.32M0 203.38H220.32M0 209.86H220.32M0 216.34H220.32M0 222.82H220.32M0 229.3H220.32M0 235.78H220.32M0 242.26H220.32M0 248.74H220.32M0 255.22H220.32M0 261.7H220.32M0 268.18H220.32M0 274.66H220.32M0 281.14H220.32M0 287.62H220.32" stroke="#0c0c1c" stroke-width="1" stroke-opacity="0.72" fill="none"/>
<path d="M220.32 100.45H251.6M220.32 106.93H251.6M220.32 113.41H251.6M220.32 119.89H251.6M220.32 126.37H251.6M220.32 132.85H251.6M220.32 139.33H251.6M220.32 145.81H251.6M220.32 152.29H251.6M220.32 158.77H251.6M220.32 165.25H251.6M220.32 171.73H251.6M220.32 178.21H251.6M220.32 184.69H251.6M220.32 191.17H251.6M220.32 197.65H251.6M220.32 204.13H251.6M220.32 210.61H251.6M220.32 217.09H251.6M220.32 223.57H251.6M220.32 230.05H251.6M220.32 236.53H251.6M220.32 243.01H251.6M220.32 249.49H251.6M220.32 255.97H251.6M220.32 262.45H251.6M220.32 268.93H251.6M220.32 275.41H251.6M220.32 281.89H251.6M220.32 288.37H251.6" stroke="#333" stroke-width="0.9" fill="none"/>
<g font-family="Liberation Mono, monospace" font-size="6.1" fill="#111" font-weight="bold">
<text x="225" y="106.68">NGFR</text>
<text x="225" y="113.16">NTF3</text>
<text x="225" y="119.64">PLCB1</text>
<text x="225" y="126.12">SKIP</text>
<text x="225" y="132.6">PDGFA</text>
<text x="225" y="139.08">PIK3R1</text>
<text x="225" y="145.56">PTK2</text>
<text x="225" y="152.04">ASAH1</text>
<text x="225" y="158.52">EDG8</text>
<text x="225" y="165">SMPD2</text>
<text x="225" y="171.48">SPHK1</text>
<text x="225" y="177.96">SMPD1</text>
<text x="225" y="184.44">SRC</text>
<text x="225" y="190.92">ITGB3</text>
<text x="225" y="197.4">AKT1</text>
<text x="225" y="203.88">PRKCB1</text>
<text x="225" y="210.36">ITGAV</text>
<text x="225" y="216.84">ADCY1</text>
<text x="225" y="223.32">MAPK1</text>
<text x="225" y="229.8">RAC1</text>
<text x="225" y="236.28">PIK3CA</text>
<text x="225" y="242.76">VEGF</text>
<text x="225" y="249.24">GNAI1</text>
<text x="225" y="255.72">GNGT1</text>
<text x="225" y="262.2">PDGFRA</text>
<text x="225" y="268.68">EDG1</text>
<text x="225" y="275.16">GNB1</text>
<text x="225" y="281.64">PRKCA</text>
<text x="225" y="288.12">MAPK3</text>
</g>
<svg x="226" y="85.2" width="25.9" height="11" overflow="hidden"><text x="0" y="8" font-family="Liberation Mono, monospace" font-size="7.7" fill="#111" stroke="#111" stroke-width="0.15">Sample</text></svg>
<!--HEATB-->
<rect x="0.9" y="314.5" width="203.36" height="31.1" fill="#c4c4c4"/>
<rect x="204.26" y="314.8" width="19.68" height="30.8" fill="#ffcc00"/>
<path d="M0.9 314.5V359.6M7.46 314.5V359.6M14.02 314.5V359.6M20.58 314.5V359.6M27.14 314.5V359.6M33.7 314.5V359.6M40.26 314.5V359.6M46.82 314.5V359.6M53.38 314.5V359.6M59.94 314.5V359.6M66.5 314.5V359.6M73.06 314.5V359.6M79.62 314.5V359.6M86.18 314.5V359.6M92.74 314.5V359.6M99.3 314.5V359.6M105.86 314.5V359.6M112.42 314.5V359.6M118.98 314.5V359.6M125.54 314.5V359.6M132.1 314.5V359.6M138.66 314.5V359.6M145.22 314.5V359.6M151.78 314.5V359.6M158.34 314.5V359.6M164.9 314.5V359.6M171.46 314.5V359.6M178.02 314.5V359.6M184.58 314.5V359.6M191.14 314.5V359.6M197.7 314.5V359.6M204.26 314.5V359.6M210.82 314.5V359.6M217.38 314.5V359.6M223.94 314.5V359.6" stroke="#333" stroke-width="0.9" fill="none"/>
<g font-family="Liberation Mono, monospace" font-size="6.3" font-weight="bold" fill="#000">
<text transform="translate(6.03 345.2) rotate(-90)">100</text>
<text transform="translate(12.59 345.2) rotate(-90)">101</text>
<text transform="translate(19.15 345.2) rotate(-90)">102</text>
<text transform="translate(25.71 345.2) rotate(-90)">103</text>
<text transform="translate(32.27 345.2) rotate(-90)">104</text>
<text transform="translate(38.83 345.2) rotate(-90)">106</text>
<text transform="translate(45.39 345.2) rotate(-90)">107</text>
<text transform="translate(51.95 345.2) rotate(-90)">108</text>
<text transform="translate(58.51 345.2) rotate(-90)">110</text>
<text transform="translate(65.07 345.2) rotate(-90)">111</text>
<text transform="translate(71.63 345.2) rotate(-90)">112</text>
<text transform="translate(78.19 345.2) rotate(-90)">113</text>
<text transform="translate(84.75 345.2) rotate(-90)">114</text>
<text transform="translate(91.31 345.2) rotate(-90)">115</text>
<text transform="translate(97.87 345.2) rotate(-90)">116</text>
<text transform="translate(104.43 345.2) rotate(-90)">117</text>
<text transform="translate(110.99 345.2) rotate(-90)">120</text>
<text transform="translate(117.55 345.2) rotate(-90)">121</text>
<text transform="translate(124.11 345.2) rotate(-90)">122</text>
<text transform="translate(130.67 345.2) rotate(-90)">123</text>
<text transform="translate(137.23 345.2) rotate(-90)">1233</text>
<text transform="translate(143.79 345.2) rotate(-90)">124</text>
<text transform="translate(150.35 345.2) rotate(-90)">126</text>
<text transform="translate(156.91 345.2) rotate(-90)">129</text>
<text transform="translate(163.47 345.2) rotate(-90)">130</text>
<text transform="translate(170.03 345.2) rotate(-90)">131</text>
<text transform="translate(176.59 345.2) rotate(-90)">132</text>
<text transform="translate(183.15 345.2) rotate(-90)">133</text>
<text transform="translate(189.71 345.2) rotate(-90)">1352</text>
<text transform="translate(196.27 345.2) rotate(-90)">136</text>
<text transform="translate(202.83 345.2) rotate(-90)">1375</text>
<text transform="translate(209.39 345.2) rotate(-90)">CAcPBMC</text>
<text transform="translate(215.95 345.2) rotate(-90)">JAcPBMC</text>
<text transform="translate(222.51 345.2) rotate(-90)">KAcPBMC</text>
</g>
<rect x="0.9" y="359.6" width="6.61" height="6.62" fill="#ff8088"/>
<rect x="7.46" y="359.6" width="6.61" height="6.62" fill="#ff8088"/>
<rect x="14.02" y="359.6" width="6.61" height="6.62" fill="#ff8088"/>
<rect x="20.58" y="359.6" width="6.61" height="6.62" fill="#ff8088"/>
<rect x="27.14" y="359.6" width="6.61" height="6.62" fill="#dc2020"/>
<rect x="33.7" y="359.6" width="6.61" height="6.62" fill="#ff8088"/>
<rect x="40.26" y="359.6" width="6.61" height="6.62" fill="#dadaff"/>
<rect x="46.82" y="359.6" width="6.61" height="6.62" fill="#dadaff"/>
<rect x="53.38" y="359.6" width="6.61" height="6.62" fill="#dadaff"/>
<rect x="59.94" y="359.6" width="6.61" height="6.62" fill="#dadaff"/>
<rect x="66.5" y="359.6" width="6.61" height="6.62" fill="#ffc8ea"/>
<rect x="73.06" y="359.6" width="6.61" height="6.62" fill="#ff8088"/>
<rect x="79.62" y="359.6" width="6.61" height="6.62" fill="#8c8cff"/>
<rect x="86.18" y="359.6" width="6.61" height="6.62" fill="#ff8088"/>
<rect x="92.74" y="359.6" width="6.61" height="6.62" fill="#dadaff"/>
<rect x="99.3" y="359.6" width="6.61" height="6.62" fill="#ff8088"/>
<rect x="105.86" y="359.6" width="6.61" height="6.62" fill="#f04848"/>
<rect x="112.42" y="359.6" width="6.61" height="6.62" fill="#f04848"/>
<rect x="118.98" y="359.6" width="6.61" height="6.62" fill="#8c8cff"/>
<rect x="125.54" y="359.6" width="6.61" height="6.62" fill="#8c8cff"/>
<rect x="132.1" y="359.6" width="6.61" height="6.62" fill="#2a00c4"/>
<rect x="138.66" y="359.6" width="6.61" height="6.62" fill="#8c8cff"/>
<rect x="145.22" y="359.6" width="6.61" height="6.62" fill="#dadaff"/>
<rect x="151.78" y="359.6" width="6.61" height="6.62" fill="#dc2020"/>
<rect x="158.34" y="359.6" width="6.61" height="6.62" fill="#ffc8ea"/>
<rect x="164.9" y="359.6" width="6.61" height="6.62" fill="#5a48e6"/>
<rect x="171.46" y="359.6" width="6.61" height="6.62" fill="#8c8cff"/>
<rect x="178.02" y="359.6" width="6.61" height="6.62" fill="#dadaff"/>
<rect x="184.58" y="359.6" width="6.61" height="6.62" fill="#8c8cff"/>
<rect x="191.14" y="359.6" width="6.61" height="6.62" fill="#ffc8ea"/>
<rect x="197.7" y="359.6" width="6.61" height="6.62" fill="#2a00c4"/>
<rect x="204.26" y="359.6" width="6.61" height="6.62" fill="#5a48e6"/>
<rect x="210.82" y="359.6" width="6.61" height="6.62" fill="#2a00c4"/>
<rect x="217.38" y="359.6" width="6.61" height="6.62" fill="#2a00c4"/>
<rect x="0.9" y="366.17" width="6.61" height="6.62" fill="#ff8088"/>
<rect x="7.46" y="366.17" width="6.61" height="6.62" fill="#ff8088"/>
<rect x="14.02" y="366.17" width="6.61" height="6.62" fill="#ffc8ea"/>
<rect x="20.58" y="366.17" width="6.61" height="6.62" fill="#ff8088"/>
<rect x="27.14" y="366.17" width="6.61" height="6.62" fill="#dc2020"/>
<rect x="33.7" y="366.17" width="6.61" height="6.62" fill="#ff8088"/>
<rect x="40.26" y="366.17" width="6.61" height="6.62" fill="#dadaff"/>
<rect x="46.82" y="366.17" width="6.61" height="6.62" fill="#8c8cff"/>
<rect x="53.38" y="366.17" width="6.61" height="6.62" fill="#8c8cff"/>
<rect x="59.94" y="366.17" width="6.61" height="6.62" fill="#dadaff"/>
<rect x="66.5" y="366.17" width="6.61" height="6.62" fill="#ffc8ea"/>
<rect x="73.06" y="366.17" width="6.61" height="6.62" fill="#ffc8ea"/>
<rect x="79.62" y="366.17" width="6.61" height="6.62" fill="#8c8cff"/>
<rect x="86.18" y="366.17" width="6.61" height="6.62" fill="#ff8088"/>
<rect x="92.74" y="366.17" width="6.61" height="6.62" fill="#8c8cff"/>
<rect x="99.3" y="366.17" width="6.61" height="6.62" fill="#ff8088"/>
<rect x="105.86" y="366.17" width="6.61" height="6.62" fill="#dadaff"/>
<rect x="112.42" y="366.17" width="6.61" height="6.62" fill="#ff8088"/>
<rect x="118.98" y="366.17" width="6.61" height="6.62" fill="#2a00c4"/>
<rect x="125.54" y="366.17" width="6.61" height="6.62" fill="#dadaff"/>
<rect x="132.1" y="366.17" width="6.61" height="6.62" fill="#2a00c4"/>
<rect x="138.66" y="366.17" width="6.61" height="6.62" fill="#8c8cff"/>
<rect x="145.22" y="366.17" width="6.61" height="6.62" fill="#dadaff"/>
<rect x="151.78" y="366.17" width="6.61" height="6.62" fill="#f04848"/>
<rect x="158.34" y="366.17" width="6.61" height="6.62" fill="#ff8088"/>
<rect x="164.9" y="366.17" width="6.61" height="6.62" fill="#dadaff"/>
<rect x="171.46" y="366.17" width="6.61" height="6.62" fill="#ff8088"/>
<rect x="178.02" y="366.17" width="6.61" height="6.62" fill="#dadaff"/>
<rect x="184.58" y="366.17" width="6.61" height="6.62" fill="#2a00c4"/>
<rect x="191.14" y="366.17" width="6.61" height="6.62" fill="#dadaff"/>
<rect x="197.7" y="366.17" width="6.61" height="6.62" fill="#2a00c4"/>
<rect x="204.26" y="366.17" width="6.61" height="6.62" fill="#2a00c4"/>
<rect x="210.82" y="366.17" width="6.61" height="6.62" fill="#2a00c4"/>
<rect x="217.38" y="366.17" width="6.61" height="6.62" fill="#8c8cff"/>
<rect x="0.9" y="372.74" width="6.61" height="6.62" fill="#ffc8ea"/>
<rect x="7.46" y="372.74" width="6.61" height="6.62" fill="#f04848"/>
<rect x="14.02" y="372.74" width="6.61" height="6.62" fill="#ff8088"/>
<rect x="20.58" y="372.74" width="6.61" height="6.62" fill="#8c8cff"/>
<rect x="27.14" y="372.74" width="6.61" height="6.62" fill="#ff8088"/>
<rect x="33.7" y="372.74" width="6.61" height="6.62" fill="#ffc8ea"/>
<rect x="40.26" y="372.74" width="6.61" height="6.62" fill="#2a00c4"/>
<rect x="46.82" y="372.74" width="6.61" height="6.62" fill="#5a48e6"/>
<rect x="53.38" y="372.74" width="6.61" height="6.62" fill="#8c8cff"/>
<rect x="59.94" y="372.74" width="6.61" height="6.62" fill="#ff8088"/>
<rect x="66.5" y="372.74" width="6.61" height="6.62" fill="#ffc8ea"/>
<rect x="73.06" y="372.74" width="6.61" height="6.62" fill="#ff8088"/>
<rect x="79.62" y="372.74" width="6.61" height="6.62" fill="#8c8cff"/>
<rect x="86.18" y="372.74" width="6.61" height="6.62" fill="#2a00c4"/>
<rect x="92.74" y="372.74" width="6.61" height="6.62" fill="#ff8088"/>
<rect x="99.3" y="372.74" width="6.61" height="6.62" fill="#dc2020"/>
<rect x="105.86" y="372.74" width="6.61" height="6.62" fill="#dc2020"/>
<rect x="112.42" y="372.74" width="6.61" height="6.62" fill="#ff8088"/>
<rect x="118.98" y="372.74" width="6.61" height="6.62" fill="#dadaff"/>
<rect x="125.54" y="372.74" width="6.61" height="6.62" fill="#ffc8ea"/>
<rect x="132.1" y="372.74" width="6.61" height="6.62" fill="#8c8cff"/>
<rect x="138.66" y="372.74" width="6.61" height="6.62" fill="#2a00c4"/>
<rect x="145.22" y="372.74" width="6.61" height="6.62" fill="#2a00c4"/>
<rect x="151.78" y="372.74" width="6.61" height="6.62" fill="#ff8088"/>
<rect x="158.34" y="372.74" width="6.61" height="6.62" fill="#dc2020"/>
<rect x="164.9" y="372.74" width="6.61" height="6.62" fill="#dadaff"/>
<rect x="171.46" y="372.74" width="6.61" height="6.62" fill="#dadaff"/>
<rect x="178.02" y="372.74" width="6.61" height="6.62" fill="#ffc8ea"/>
<rect x="184.58" y="372.74" width="6.61" height="6.62" fill="#dadaff"/>
<rect x="191.14" y="372.74" width="6.61" height="6.62" fill="#ffc8ea"/>
<rect x="197.7" y="372.74" width="6.61" height="6.62" fill="#5a48e6"/>
<rect x="204.26" y="372.74" width="6.61" height="6.62" fill="#5a48e6"/>
<rect x="210.82" y="372.74" width="6.61" height="6.62" fill="#2a00c4"/>
<rect x="217.38" y="372.74" width="6.61" height="6.62" fill="#2a00c4"/>
<rect x="0.9" y="379.31" width="6.61" height="6.62" fill="#ff8088"/>
<rect x="7.46" y="379.31" width="6.61" height="6.62" fill="#ff8088"/>
<rect x="14.02" y="379.31" width="6.61" height="6.62" fill="#ff8088"/>
<rect x="20.58" y="379.31" width="6.61" height="6.62" fill="#ff8088"/>
<rect x="27.14" y="379.31" width="6.61" height="6.62" fill="#dc2020"/>
<rect x="33.7" y="379.31" width="6.61" height="6.62" fill="#ff8088"/>
<rect x="40.26" y="379.31" width="6.61" height="6.62" fill="#ff8088"/>
<rect x="46.82" y="379.31" width="6.61" height="6.62" fill="#8c8cff"/>
<rect x="53.38" y="379.31" width="6.61" height="6.62" fill="#ff8088"/>
<rect x="59.94" y="379.31" width="6.61" height="6.62" fill="#8c8cff"/>
<rect x="66.5" y="379.31" width="6.61" height="6.62" fill="#ff8088"/>
<rect x="73.06" y="379.31" width="6.61" height="6.62" fill="#ff8088"/>
<rect x="79.62" y="379.31" width="6.61" height="6.62" fill="#ff8088"/>
<rect x="86.18" y="379.31" width="6.61" height="6.62" fill="#8c8cff"/>
<rect x="92.74" y="379.31" width="6.61" height="6.62" fill="#8c8cff"/>
<rect x="99.3" y="379.31" width="6.61" height="6.62" fill="#f04848"/>
<rect x="105.86" y="379.31" width="6.61" height="6.62" fill="#8c8cff"/>
<rect x="112.42" y="379.31" width="6.61" height="6.62" fill="#dadaff"/>
<rect x="118.98" y="379.31" width="6.61" height="6.62" fill="#2a00c4"/>
<rect x="125.54" y="379.31" width="6.61" height="6.62" fill="#8c8cff"/>
<rect x="132.1" y="379.31" width="6.61" height="6.62" fill="#2a00c4"/>
<rect x="138.66" y="379.31" width="6.61" height="6.62" fill="#2a00c4"/>
<rect x="145.22" y="379.31" width="6.61" height="6.62" fill="#dadaff"/>
<rect x="151.78" y="379.31" width="6.61" height="6.62" fill="#f04848"/>
<rect x="158.34" y="379.31" width="6.61" height="6.62" fill="#ffc8ea"/>
<rect x="164.9" y="379.31" width="6.61" height="6.62" fill="#8c8cff"/>
<rect x="171.46" y="379.31" width="6.61" height="6.62" fill="#dadaff"/>
<rect x="178.02" y="379.31" width="6.61" height="6.62" fill="#8c8cff"/>
<rect x="184.58" y="379.31" width="6.61" height="6.62" fill="#8c8cff"/>
<rect x="191.14" y="379.31" width="6.61" height="6.62" fill="#ff8088"/>
<rect x="197.7" y="379.31" width="6.61" height="6.62" fill="#2a00c4"/>
<rect x="204.26" y="379.31" width="6.61" height="6.62" fill="#2a00c4"/>
<rect x="210.82" y="379.31" width="6.61" height="6.62" fill="#2a00c4"/>
<rect x="217.38" y="379.31" width="6.61" height="6.62" fill="#2a00c4"/>
<rect x="0.9" y="385.88" width="6.61" height="6.62" fill="#ff8088"/>
<rect x="7.46" y="385.88" width="6.61" height="6.62" fill="#ffc8ea"/>
<rect x="14.02" y="385.88" width="6.61" height="6.62" fill="#ff8088"/>
<rect x="20.58" y="385.88" width="6.61" height="6.62" fill="#ffc8ea"/>
<rect x="27.14" y="385.88" width="6.61" height="6.62" fill="#f04848"/>
<rect x="33.7" y="385.88" width="6.61" height="6.62" fill="#ff8088"/>
<rect x="40.26" y="385.88" width="6.61" height="6.62" fill="#dadaff"/>
<rect x="46.82" y="385.88" width="6.61" height="6.62" fill="#8c8cff"/>
<rect x="53.38" y="385.88" width="6.61" height="6.62" fill="#8c8cff"/>
<rect x="59.94" y="385.88" width="6.61" height="6.62" fill="#dadaff"/>
<rect x="66.5" y="385.88" width="6.61" height="6.62" fill="#ff8088"/>
<rect x="73.06" y="385.88" width="6.61" height="6.62" fill="#ff8088"/>
<rect x="79.62" y="385.88" width="6.61" height="6.62" fill="#dadaff"/>
<rect x="86.18" y="385.88" width="6.61" height="6.62" fill="#ff8088"/>
<rect x="92.74" y="385.88" width="6.61" height="6.62" fill="#8c8cff"/>
<rect x="99.3" y="385.88" width="6.61" height="6.62" fill="#ff8088"/>
<rect x="105.86" y="385.88" width="6.61" height="6.62" fill="#dadaff"/>
<rect x="112.42" y="385.88" width="6.61" height="6.62" fill="#ffc8ea"/>
<rect x="118.98" y="385.88" width="6.61" height="6.62" fill="#2a00c4"/>
<rect x="125.54" y="385.88" width="6.61" height="6.62" fill="#8c8cff"/>
<rect x="132.1" y="385.88" width="6.61" height="6.62" fill="#2a00c4"/>
<rect x="138.66" y="385.88" width="6.61" height="6.62" fill="#2a00c4"/>
<rect x="145.22" y="385.88" width="6.61" height="6.62" fill="#8c8cff"/>
<rect x="151.78" y="385.88" width="6.61" height="6.62" fill="#dc2020"/>
<rect x="158.34" y="385.88" width="6.61" height="6.62" fill="#ffc8ea"/>
<rect x="164.9" y="385.88" width="6.61" height="6.62" fill="#8c8cff"/>
<rect x="171.46" y="385.88" width="6.61" height="6.62" fill="#ff8088"/>
<rect x="178.02" y="385.88" width="6.61" height="6.62" fill="#ffc8ea"/>
<rect x="184.58" y="385.88" width="6.61" height="6.62" fill="#2a00c4"/>
<rect x="191.14" y="385.88" width="6.61" height="6.62" fill="#ff8088"/>
<rect x="197.7" y="385.88" width="6.61" height="6.62" fill="#2a00c4"/>
<rect x="204.26" y="385.88" width="6.61" height="6.62" fill="#2a00c4"/>
<rect x="210.82" y="385.88" width="6.61" height="6.62" fill="#2a00c4"/>
<rect x="217.38" y="385.88" width="6.61" height="6.62" fill="#5a48e6"/>
<rect x="0.9" y="392.45" width="6.61" height="6.62" fill="#dadaff"/>
<rect x="7.46" y="392.45" width="6.61" height="6.62" fill="#ff8088"/>
<rect x="14.02" y="392.45" width="6.61" height="6.62" fill="#8c8cff"/>
<rect x="20.58" y="392.45" width="6.61" height="6.62" fill="#dadaff"/>
<rect x="27.14" y="392.45" width="6.61" height="6.62" fill="#ff8088"/>
<rect x="33.7" y="392.45" width="6.61" height="6.62" fill="#ff8088"/>
<rect x="40.26" y="392.45" width="6.61" height="6.62" fill="#8c8cff"/>
<rect x="46.82" y="392.45" width="6.61" height="6.62" fill="#dadaff"/>
<rect x="53.38" y="392.45" width="6.61" height="6.62" fill="#ff8088"/>
<rect x="59.94" y="392.45" width="6.61" height="6.62" fill="#dadaff"/>
<rect x="66.5" y="392.45" width="6.61" height="6.62" fill="#dc2020"/>
<rect x="73.06" y="392.45" width="6.61" height="6.62" fill="#dadaff"/>
<rect x="79.62" y="392.45" width="6.61" height="6.62" fill="#ffc8ea"/>
<rect x="86.18" y="392.45" width="6.61" height="6.62" fill="#ff8088"/>
<rect x="92.74" y="392.45" width="6.61" height="6.62" fill="#dadaff"/>
<rect x="99.3" y="392.45" width="6.61" height="6.62" fill="#dc2020"/>
<rect x="105.86" y="392.45" width="6.61" height="6.62" fill="#ffc8ea"/>
<rect x="112.42" y="392.45" width="6.61" height="6.62" fill="#ff8088"/>
<rect x="118.98" y="392.45" width="6.61" height="6.62" fill="#8c8cff"/>
<rect x="125.54" y="392.45" width="6.61" height="6.62" fill="#dadaff"/>
<rect x="132.1" y="392.45" width="6.61" height="6.62" fill="#2a00c4"/>
<rect x="138.66" y="392.45" width="6.61" height="6.62" fill="#2a00c4"/>
<rect x="145.22" y="392.45" width="6.61" height="6.62" fill="#ff8088"/>
<rect x="151.78" y="392.45" width="6.61" height="6.62" fill="#f04848"/>
<rect x="158.34" y="392.45" width="6.61" height="6.62" fill="#ffc8ea"/>
<rect x="164.9" y="392.45" width="6.61" height="6.62" fill="#8c8cff"/>
<rect x="171.46" y="392.45" width="6.61" height="6.62" fill="#8c8cff"/>
<rect x="178.02" y="392.45" width="6.61" height="6.62" fill="#8c8cff"/>
<rect x="184.58" y="392.45" width="6.61" height="6.62" fill="#2a00c4"/>
<rect x="191.14" y="392.45" width="6.61" height="6.62" fill="#ff8088"/>
<rect x="197.7" y="392.45" width="6.61" height="6.62" fill="#2a00c4"/>
<rect x="204.26" y="392.45" width="6.61" height="6.62" fill="#5a48e6"/>
<rect x="210.82" y="392.45" width="6.61" height="6.62" fill="#2a00c4"/>
<rect x="217.38" y="392.45" width="6.61" height="6.62" fill="#5a48e6"/>
<rect x="0.9" y="399.02" width="6.61" height="6.62" fill="#ff8088"/>
<rect x="7.46" y="399.02" width="6.61" height="6.62" fill="#ff8088"/>
<rect x="14.02" y="399.02" width="6.61" height="6.62" fill="#ff8088"/>
<rect x="20.58" y="399.02" width="6.61" height="6.62" fill="#ff8088"/>
<rect x="27.14" y="399.02" width="6.61" height="6.62" fill="#dc2020"/>
<rect x="33.7" y="399.02" width="6.61" height="6.62" fill="#ffc8ea"/>
<rect x="40.26" y="399.02" width="6.61" height="6.62" fill="#dadaff"/>
<rect x="46.82" y="399.02" width="6.61" height="6.62" fill="#8c8cff"/>
<rect x="53.38" y="399.02" width="6.61" height="6.62" fill="#dadaff"/>
<rect x="59.94" y="399.02" width="6.61" height="6.62" fill="#ffc8ea"/>
<rect x="66.5" y="399.02" width="6.61" height="6.62" fill="#ff8088"/>
<rect x="73.06" y="399.02" width="6.61" height="6.62" fill="#ff8088"/>
<rect x="79.62" y="399.02" width="6.61" height="6.62" fill="#ffc8ea"/>
<rect x="86.18" y="399.02" width="6.61" height="6.62" fill="#ff8088"/>
<rect x="92.74" y="399.02" width="6.61" height="6.62" fill="#8c8cff"/>
<rect x="99.3" y="399.02" width="6.61" height="6.62" fill="#dc2020"/>
<rect x="105.86" y="399.02" width="6.61" height="6.62" fill="#ffc8ea"/>
<rect x="112.42" y="399.02" width="6.61" height="6.62" fill="#ff8088"/>
<rect x="118.98" y="399.02" width="6.61" height="6.62" fill="#2a00c4"/>
<rect x="125.54" y="399.02" width="6.61" height="6.62" fill="#8c8cff"/>
<rect x="132.1" y="399.02" width="6.61" height="6.62" fill="#2a00c4"/>
<rect x="138.66" y="399.02" width="6.61" height="6.62" fill="#8c8cff"/>
<rect x="145.22" y="399.02" width="6.61" height="6.62" fill="#8c8cff"/>
<rect x="151.78" y="399.02" width="6.61" height="6.62" fill="#dc2020"/>
<rect x="158.34" y="399.02" width="6.61" height="6.62" fill="#ff8088"/>
<rect x="164.9" y="399.02" width="6.61" height="6.62" fill="#dadaff"/>
<rect x="171.46" y="399.02" width="6.61" height="6.62" fill="#ffc8ea"/>
<rect x="178.02" y="399.02" width="6.61" height="6.62" fill="#8c8cff"/>
<rect x="184.58" y="399.02" width="6.61" height="6.62" fill="#8c8cff"/>
<rect x="191.14" y="399.02" width="6.61" height="6.62" fill="#ff8088"/>
<rect x="197.7" y="399.02" width="6.61" height="6.62" fill="#2a00c4"/>
<rect x="204.26" y="399.02" width="6.61" height="6.62" fill="#5a48e6"/>
<rect x="210.82" y="399.02" width="6.61" height="6.62" fill="#2a00c4"/>
<rect x="217.38" y="399.02" width="6.61" height="6.62" fill="#5a48e6"/>
<rect x="0.9" y="405.59" width="6.61" height="6.62" fill="#ff8088"/>
<rect x="7.46" y="405.59" width="6.61" height="6.62" fill="#ffc8ea"/>
<rect x="14.02" y="405.59" width="6.61" height="6.62" fill="#ff8088"/>
<rect x="20.58" y="405.59" width="6.61" height="6.62" fill="#ffc8ea"/>
<rect x="27.14" y="405.59" width="6.61" height="6.62" fill="#ff8088"/>
<rect x="33.7" y="405.59" width="6.61" height="6.62" fill="#ffc8ea"/>
<rect x="40.26" y="405.59" width="6.61" height="6.62" fill="#dadaff"/>
<rect x="46.82" y="405.59" width="6.61" height="6.62" fill="#ffc8ea"/>
<rect x="53.38" y="405.59" width="6.61" height="6.62" fill="#dadaff"/>
<rect x="59.94" y="405.59" width="6.61" height="6.62" fill="#ffc8ea"/>
<rect x="66.5" y="405.59" width="6.61" height="6.62" fill="#dadaff"/>
<rect x="73.06" y="405.59" width="6.61" height="6.62" fill="#ff8088"/>
<rect x="79.62" y="405.59" width="6.61" height="6.62" fill="#ffc8ea"/>
<rect x="86.18" y="405.59" width="6.61" height="6.62" fill="#ffc8ea"/>
<rect x="92.74" y="405.59" width="6.61" height="6.62" fill="#8c8cff"/>
<rect x="99.3" y="405.59" width="6.61" height="6.62" fill="#dc2020"/>
<rect x="105.86" y="405.59" width="6.61" height="6.62" fill="#ffc8ea"/>
<rect x="112.42" y="405.59" width="6.61" height="6.62" fill="#ff8088"/>
<rect x="118.98" y="405.59" width="6.61" height="6.62" fill="#8c8cff"/>
<rect x="125.54" y="405.59" width="6.61" height="6.62" fill="#8c8cff"/>
<rect x="132.1" y="405.59" width="6.61" height="6.62" fill="#2a00c4"/>
<rect x="138.66" y="405.59" width="6.61" height="6.62" fill="#8c8cff"/>
<rect x="145.22" y="405.59" width="6.61" height="6.62" fill="#8c8cff"/>
<rect x="151.78" y="405.59" width="6.61" height="6.62" fill="#f04848"/>
<rect x="158.34" y="405.59" width="6.61" height="6.62" fill="#dadaff"/>
<rect x="164.9" y="405.59" width="6.61" height="6.62" fill="#8c8cff"/>
<rect x="171.46" y="405.59" width="6.61" height="6.62" fill="#8c8cff"/>
<rect x="178.02" y="405.59" width="6.61" height="6.62" fill="#dadaff"/>
<rect x="184.58" y="405.59" width="6.61" height="6.62" fill="#2a00c4"/>
<rect x="191.14" y="405.59" width="6.61" height="6.62" fill="#ffc8ea"/>
<rect x="197.7" y="405.59" width="6.61" height="6.62" fill="#5a48e6"/>
<rect x="204.26" y="405.59" width="6.61" height="6.62" fill="#5a48e6"/>
<rect x="210.82" y="405.59" width="6.61" height="6.62" fill="#2a00c4"/>
<rect x="217.38" y="405.59" width="6.61" height="6.62" fill="#8c8cff"/>
<rect x="0.9" y="412.16" width="6.61" height="6.62" fill="#ffc8ea"/>
<rect x="7.46" y="412.16" width="6.61" height="6.62" fill="#ffc8ea"/>
<rect x="14.02" y="412.16" width="6.61" height="6.62" fill="#dadaff"/>
<rect x="20.58" y="412.16" width="6.61" height="6.62" fill="#dadaff"/>
<rect x="27.14" y="412.16" width="6.61" height="6.62" fill="#dc2020"/>
<rect x="33.7" y="412.16" width="6.61" height="6.62" fill="#ff8088"/>
<rect x="40.26" y="412.16" width="6.61" height="6.62" fill="#ffc8ea"/>
<rect x="46.82" y="412.16" width="6.61" height="6.62" fill="#ff8088"/>
<rect x="53.38" y="412.16" width="6.61" height="6.62" fill="#ff8088"/>
<rect x="59.94" y="412.16" width="6.61" height="6.62" fill="#ffc8ea"/>
<rect x="66.5" y="412.16" width="6.61" height="6.62" fill="#ffc8ea"/>
<rect x="73.06" y="412.16" width="6.61" height="6.62" fill="#ff8088"/>
<rect x="79.62" y="412.16" width="6.61" height="6.62" fill="#8c8cff"/>
<rect x="86.18" y="412.16" width="6.61" height="6.62" fill="#2a00c4"/>
<rect x="92.74" y="412.16" width="6.61" height="6.62" fill="#ff8088"/>
<rect x="99.3" y="412.16" width="6.61" height="6.62" fill="#ffc8ea"/>
<rect x="105.86" y="412.16" width="6.61" height="6.62" fill="#dadaff"/>
<rect x="112.42" y="412.16" width="6.61" height="6.62" fill="#dc2020"/>
<rect x="118.98" y="412.16" width="6.61" height="6.62" fill="#2a00c4"/>
<rect x="125.54" y="412.16" width="6.61" height="6.62" fill="#2a00c4"/>
<rect x="132.1" y="412.16" width="6.61" height="6.62" fill="#2a00c4"/>
<rect x="138.66" y="412.16" width="6.61" height="6.62" fill="#8c8cff"/>
<rect x="145.22" y="412.16" width="6.61" height="6.62" fill="#8c8cff"/>
<rect x="151.78" y="412.16" width="6.61" height="6.62" fill="#ff8088"/>
<rect x="158.34" y="412.16" width="6.61" height="6.62" fill="#8c8cff"/>
<rect x="164.9" y="412.16" width="6.61" height="6.62" fill="#8c8cff"/>
<rect x="171.46" y="412.16" width="6.61" height="6.62" fill="#2a00c4"/>
<rect x="178.02" y="412.16" width="6.61" height="6.62" fill="#ff8088"/>
<rect x="184.58" y="412.16" width="6.61" height="6.62" fill="#8c8cff"/>
<rect x="191.14" y="412.16" width="6.61" height="6.62" fill="#ff8088"/>
<rect x="197.7" y="412.16" width="6.61" height="6.62" fill="#2a00c4"/>
<rect x="204.26" y="412.16" width="6.61" height="6.62" fill="#2a00c4"/>
<rect x="210.82" y="412.16" width="6.61" height="6.62" fill="#2a00c4"/>
<rect x="217.38" y="412.16" width="6.61" height="6.62" fill="#8c8cff"/>
<rect x="0.9" y="418.73" width="6.61" height="6.62" fill="#ff8088"/>
<rect x="7.46" y="418.73" width="6.61" height="6.62" fill="#dc2020"/>
<rect x="14.02" y="418.73" width="6.61" height="6.62" fill="#ff8088"/>
<rect x="20.58" y="418.73" width="6.61" height="6.62" fill="#ff8088"/>
<rect x="27.14" y="418.73" width="6.61" height="6.62" fill="#ff8088"/>
<rect x="33.7" y="418.73" width="6.61" height="6.62" fill="#ffc8ea"/>
<rect x="40.26" y="418.73" width="6.61" height="6.62" fill="#dadaff"/>
<rect x="46.82" y="418.73" width="6.61" height="6.62" fill="#dadaff"/>
<rect x="53.38" y="418.73" width="6.61" height="6.62" fill="#8c8cff"/>
<rect x="59.94" y="418.73" width="6.61" height="6.62" fill="#dadaff"/>
<rect x="66.5" y="418.73" width="6.61" height="6.62" fill="#ffc8ea"/>
<rect x="73.06" y="418.73" width="6.61" height="6.62" fill="#dc2020"/>
<rect x="79.62" y="418.73" width="6.61" height="6.62" fill="#dadaff"/>
<rect x="86.18" y="418.73" width="6.61" height="6.62" fill="#ff8088"/>
<rect x="92.74" y="418.73" width="6.61" height="6.62" fill="#ff8088"/>
<rect x="99.3" y="418.73" width="6.61" height="6.62" fill="#dadaff"/>
<rect x="105.86" y="418.73" width="6.61" height="6.62" fill="#ff8088"/>
<rect x="112.42" y="418.73" width="6.61" height="6.62" fill="#ffc8ea"/>
<rect x="118.98" y="418.73" width="6.61" height="6.62" fill="#8c8cff"/>
<rect x="125.54" y="418.73" width="6.61" height="6.62" fill="#8c8cff"/>
<rect x="132.1" y="418.73" width="6.61" height="6.62" fill="#5a48e6"/>
<rect x="138.66" y="418.73" width="6.61" height="6.62" fill="#5a48e6"/>
<rect x="145.22" y="418.73" width="6.61" height="6.62" fill="#8c8cff"/>
<rect x="151.78" y="418.73" width="6.61" height="6.62" fill="#f04848"/>
<rect x="158.34" y="418.73" width="6.61" height="6.62" fill="#ff8088"/>
<rect x="164.9" y="418.73" width="6.61" height="6.62" fill="#dadaff"/>
<rect x="171.46" y="418.73" width="6.61" height="6.62" fill="#ffc8ea"/>
<rect x="178.02" y="418.73" width="6.61" height="6.62" fill="#dadaff"/>
<rect x="184.58" y="418.73" width="6.61" height="6.62" fill="#5a48e6"/>
<rect x="191.14" y="418.73" width="6.61" height="6.62" fill="#ff8088"/>
<rect x="197.7" y="418.73" width="6.61" height="6.62" fill="#5a48e6"/>
<rect x="204.26" y="418.73" width="6.61" height="6.62" fill="#5a48e6"/>
<rect x="210.82" y="418.73" width="6.61" height="6.62" fill="#2a00c4"/>
<rect x="217.38" y="418.73" width="6.61" height="6.62" fill="#dadaff"/>
<rect x="0.9" y="425.3" width="6.61" height="6.62" fill="#dc2020"/>
<rect x="7.46" y="425.3" width="6.61" height="6.62" fill="#ff8088"/>
<rect x="14.02" y="425.3" width="6.61" height="6.62" fill="#ff8088"/>
<rect x="20.58" y="425.3" width="6.61" height="6.62" fill="#f04848"/>
<rect x="27.14" y="425.3" width="6.61" height="6.62" fill="#ffc8ea"/>
<rect x="33.7" y="425.3" width="6.61" height="6.62" fill="#8c8cff"/>
<rect x="40.26" y="425.3" width="6.61" height="6.62" fill="#8c8cff"/>
<rect x="46.82" y="425.3" width="6.61" height="6.62" fill="#2a00c4"/>
<rect x="53.38" y="425.3" width="6.61" height="6.62" fill="#2a00c4"/>
<rect x="59.94" y="425.3" width="6.61" height="6.62" fill="#2a00c4"/>
<rect x="66.5" y="425.3" width="6.61" height="6.62" fill="#8c8cff"/>
<rect x="73.06" y="425.3" width="6.61" height="6.62" fill="#ff8088"/>
<rect x="79.62" y="425.3" width="6.61" height="6.62" fill="#8c8cff"/>
<rect x="86.18" y="425.3" width="6.61" height="6.62" fill="#ff8088"/>
<rect x="92.74" y="425.3" width="6.61" height="6.62" fill="#8c8cff"/>
<rect x="99.3" y="425.3" width="6.61" height="6.62" fill="#8c8cff"/>
<rect x="105.86" y="425.3" width="6.61" height="6.62" fill="#ff8088"/>
<rect x="112.42" y="425.3" width="6.61" height="6.62" fill="#5a48e6"/>
<rect x="118.98" y="425.3" width="6.61" height="6.62" fill="#8c8cff"/>
<rect x="125.54" y="425.3" width="6.61" height="6.62" fill="#2a00c4"/>
<rect x="132.1" y="425.3" width="6.61" height="6.62" fill="#ffc8ea"/>
<rect x="138.66" y="425.3" width="6.61" height="6.62" fill="#ffc8ea"/>
<rect x="145.22" y="425.3" width="6.61" height="6.62" fill="#8c8cff"/>
<rect x="151.78" y="425.3" width="6.61" height="6.62" fill="#8c8cff"/>
<rect x="158.34" y="425.3" width="6.61" height="6.62" fill="#8c8cff"/>
<rect x="164.9" y="425.3" width="6.61" height="6.62" fill="#dadaff"/>
<rect x="171.46" y="425.3" width="6.61" height="6.62" fill="#ff8088"/>
<rect x="178.02" y="425.3" width="6.61" height="6.62" fill="#8c8cff"/>
<rect x="184.58" y="425.3" width="6.61" height="6.62" fill="#ffc8ea"/>
<rect x="191.14" y="425.3" width="6.61" height="6.62" fill="#dadaff"/>
<rect x="197.7" y="425.3" width="6.61" height="6.62" fill="#ffc8ea"/>
<rect x="204.26" y="425.3" width="6.61" height="6.62" fill="#5a48e6"/>
<rect x="210.82" y="425.3" width="6.61" height="6.62" fill="#2a00c4"/>
<rect x="217.38" y="425.3" width="6.61" height="6.62" fill="#2a00c4"/>
<rect x="0.9" y="431.87" width="6.61" height="6.62" fill="#dadaff"/>
<rect x="7.46" y="431.87" width="6.61" height="6.62" fill="#ff8088"/>
<rect x="14.02" y="431.87" width="6.61" height="6.62" fill="#ffc8ea"/>
<rect x="20.58" y="431.87" width="6.61" height="6.62" fill="#dadaff"/>
<rect x="27.14" y="431.87" width="6.61" height="6.62" fill="#dc2020"/>
<rect x="33.7" y="431.87" width="6.61" height="6.62" fill="#ff8088"/>
<rect x="40.26" y="431.87" width="6.61" height="6.62" fill="#dadaff"/>
<rect x="46.82" y="431.87" width="6.61" height="6.62" fill="#8c8cff"/>
<rect x="53.38" y="431.87" width="6.61" height="6.62" fill="#dadaff"/>
<rect x="59.94" y="431.87" width="6.61" height="6.62" fill="#8c8cff"/>
<rect x="66.5" y="431.87" width="6.61" height="6.62" fill="#ffc8ea"/>
<rect x="73.06" y="431.87" width="6.61" height="6.62" fill="#ff8088"/>
<rect x="79.62" y="431.87" width="6.61" height="6.62" fill="#ffc8ea"/>
<rect x="86.18" y="431.87" width="6.61" height="6.62" fill="#ffc8ea"/>
<rect x="92.74" y="431.87" width="6.61" height="6.62" fill="#ff8088"/>
<rect x="99.3" y="431.87" width="6.61" height="6.62" fill="#ff8088"/>
<rect x="105.86" y="431.87" width="6.61" height="6.62" fill="#dadaff"/>
<rect x="112.42" y="431.87" width="6.61" height="6.62" fill="#ffc8ea"/>
<rect x="118.98" y="431.87" width="6.61" height="6.62" fill="#2a00c4"/>
<rect x="125.54" y="431.87" width="6.61" height="6.62" fill="#8c8cff"/>
<rect x="132.1" y="431.87" width="6.61" height="6.62" fill="#2a00c4"/>
<rect x="138.66" y="431.87" width="6.61" height="6.62" fill="#2a00c4"/>
<rect x="145.22" y="431.87" width="6.61" height="6.62" fill="#dadaff"/>
<rect x="151.78" y="431.87" width="6.61" height="6.62" fill="#ff8088"/>
<rect x="158.34" y="431.87" width="6.61" height="6.62" fill="#ffc8ea"/>
<rect x="164.9" y="431.87" width="6.61" height="6.62" fill="#dadaff"/>
<rect x="171.46" y="431.87" width="6.61" height="6.62" fill="#dadaff"/>
<rect x="178.02" y="431.87" width="6.61" height="6.62" fill="#ffc8ea"/>
<rect x="184.58" y="431.87" width="6.61" height="6.62" fill="#2a00c4"/>
<rect x="191.14" y="431.87" width="6.61" height="6.62" fill="#dc2020"/>
<rect x="197.7" y="431.87" width="6.61" height="6.62" fill="#8c8cff"/>
<rect x="204.26" y="431.87" width="6.61" height="6.62" fill="#2a00c4"/>
<rect x="210.82" y="431.87" width="6.61" height="6.62" fill="#2a00c4"/>
<rect x="217.38" y="431.87" width="6.61" height="6.62" fill="#dadaff"/>
<rect x="0.9" y="438.44" width="6.61" height="6.62" fill="#ff8088"/>
<rect x="7.46" y="438.44" width="6.61" height="6.62" fill="#ffc8ea"/>
<rect x="14.02" y="438.44" width="6.61" height="6.62" fill="#ff8088"/>
<rect x="20.58" y="438.44" width="6.61" height="6.62" fill="#ff8088"/>
<rect x="27.14" y="438.44" width="6.61" height="6.62" fill="#dc2020"/>
<rect x="33.7" y="438.44" width="6.61" height="6.62" fill="#ffc8ea"/>
<rect x="40.26" y="438.44" width="6.61" height="6.62" fill="#8c8cff"/>
<rect x="46.82" y="438.44" width="6.61" height="6.62" fill="#dadaff"/>
<rect x="53.38" y="438.44" width="6.61" height="6.62" fill="#dadaff"/>
<rect x="59.94" y="438.44" width="6.61" height="6.62" fill="#8c8cff"/>
<rect x="66.5" y="438.44" width="6.61" height="6.62" fill="#ffc8ea"/>
<rect x="73.06" y="438.44" width="6.61" height="6.62" fill="#ffc8ea"/>
<rect x="79.62" y="438.44" width="6.61" height="6.62" fill="#8c8cff"/>
<rect x="86.18" y="438.44" width="6.61" height="6.62" fill="#dadaff"/>
<rect x="92.74" y="438.44" width="6.61" height="6.62" fill="#ffc8ea"/>
<rect x="99.3" y="438.44" width="6.61" height="6.62" fill="#ffc8ea"/>
<rect x="105.86" y="438.44" width="6.61" height="6.62" fill="#ffc8ea"/>
<rect x="112.42" y="438.44" width="6.61" height="6.62" fill="#ff8088"/>
<rect x="118.98" y="438.44" width="6.61" height="6.62" fill="#2a00c4"/>
<rect x="125.54" y="438.44" width="6.61" height="6.62" fill="#8c8cff"/>
<rect x="132.1" y="438.44" width="6.61" height="6.62" fill="#2a00c4"/>
<rect x="138.66" y="438.44" width="6.61" height="6.62" fill="#2a00c4"/>
<rect x="145.22" y="438.44" width="6.61" height="6.62" fill="#8c8cff"/>
<rect x="151.78" y="438.44" width="6.61" height="6.62" fill="#dc2020"/>
<rect x="158.34" y="438.44" width="6.61" height="6.62" fill="#8c8cff"/>
<rect x="164.9" y="438.44" width="6.61" height="6.62" fill="#dadaff"/>
<rect x="171.46" y="438.44" width="6.61" height="6.62" fill="#8c8cff"/>
<rect x="178.02" y="438.44" width="6.61" height="6.62" fill="#8c8cff"/>
<rect x="184.58" y="438.44" width="6.61" height="6.62" fill="#2a00c4"/>
<rect x="191.14" y="438.44" width="6.61" height="6.62" fill="#ff8088"/>
<rect x="197.7" y="438.44" width="6.61" height="6.62" fill="#2a00c4"/>
<rect x="204.26" y="438.44" width="6.61" height="6.62" fill="#2a00c4"/>
<rect x="210.82" y="438.44" width="6.61" height="6.62" fill="#2a00c4"/>
<rect x="217.38" y="438.44" width="6.61" height="6.62" fill="#8c8cff"/>
<rect x="0.9" y="445.01" width="6.61" height="6.62" fill="#ff8088"/>
<rect x="7.46" y="445.01" width="6.61" height="6.62" fill="#ffc8ea"/>
<rect x="14.02" y="445.01" width="6.61" height="6.62" fill="#ffc8ea"/>
<rect x="20.58" y="445.01" width="6.61" height="6.62" fill="#dadaff"/>
<rect x="27.14" y="445.01" width="6.61" height="6.62" fill="#dc2020"/>
<rect x="33.7" y="445.01" width="6.61" height="6.62" fill="#ff8088"/>
<rect x="40.26" y="445.01" width="6.61" height="6.62" fill="#ffc8ea"/>
<rect x="46.82" y="445.01" width="6.61" height="6.62" fill="#8c8cff"/>
<rect x="53.38" y="445.01" width="6.61" height="6.62" fill="#dadaff"/>
<rect x="59.94" y="445.01" width="6.61" height="6.62" fill="#dadaff"/>
<rect x="66.5" y="445.01" width="6.61" height="6.62" fill="#ffc8ea"/>
<rect x="73.06" y="445.01" width="6.61" height="6.62" fill="#ffc8ea"/>
<rect x="79.62" y="445.01" width="6.61" height="6.62" fill="#8c8cff"/>
<rect x="86.18" y="445.01" width="6.61" height="6.62" fill="#ff8088"/>
<rect x="92.74" y="445.01" width="6.61" height="6.62" fill="#dadaff"/>
<rect x="99.3" y="445.01" width="6.61" height="6.62" fill="#ffc8ea"/>
<rect x="105.86" y="445.01" width="6.61" height="6.62" fill="#ffc8ea"/>
<rect x="112.42" y="445.01" width="6.61" height="6.62" fill="#ffc8ea"/>
<rect x="118.98" y="445.01" width="6.61" height="6.62" fill="#8c8cff"/>
<rect x="125.54" y="445.01" width="6.61" height="6.62" fill="#8c8cff"/>
<rect x="132.1" y="445.01" width="6.61" height="6.62" fill="#2a00c4"/>
<rect x="138.66" y="445.01" width="6.61" height="6.62" fill="#2a00c4"/>
<rect x="145.22" y="445.01" width="6.61" height="6.62" fill="#8c8cff"/>
<rect x="151.78" y="445.01" width="6.61" height="6.62" fill="#dc2020"/>
<rect x="158.34" y="445.01" width="6.61" height="6.62" fill="#ffc8ea"/>
<rect x="164.9" y="445.01" width="6.61" height="6.62" fill="#8c8cff"/>
<rect x="171.46" y="445.01" width="6.61" height="6.62" fill="#ffc8ea"/>
<rect x="178.02" y="445.01" width="6.61" height="6.62" fill="#dadaff"/>
<rect x="184.58" y="445.01" width="6.61" height="6.62" fill="#8c8cff"/>
<rect x="191.14" y="445.01" width="6.61" height="6.62" fill="#ffc8ea"/>
<rect x="197.7" y="445.01" width="6.61" height="6.62" fill="#2a00c4"/>
<rect x="204.26" y="445.01" width="6.61" height="6.62" fill="#2a00c4"/>
<rect x="210.82" y="445.01" width="6.61" height="6.62" fill="#2a00c4"/>
<rect x="217.38" y="445.01" width="6.61" height="6.62" fill="#dadaff"/>
<rect x="0.9" y="451.58" width="6.61" height="6.62" fill="#ffc8ea"/>
<rect x="7.46" y="451.58" width="6.61" height="6.62" fill="#ff8088"/>
<rect x="14.02" y="451.58" width="6.61" height="6.62" fill="#f04848"/>
<rect x="20.58" y="451.58" width="6.61" height="6.62" fill="#ff8088"/>
<rect x="27.14" y="451.58" width="6.61" height="6.62" fill="#dc2020"/>
<rect x="33.7" y="451.58" width="6.61" height="6.62" fill="#ff8088"/>
<rect x="40.26" y="451.58" width="6.61" height="6.62" fill="#ff8088"/>
<rect x="46.82" y="451.58" width="6.61" height="6.62" fill="#8c8cff"/>
<rect x="53.38" y="451.58" width="6.61" height="6.62" fill="#dadaff"/>
<rect x="59.94" y="451.58" width="6.61" height="6.62" fill="#dadaff"/>
<rect x="66.5" y="451.58" width="6.61" height="6.62" fill="#dadaff"/>
<rect x="73.06" y="451.58" width="6.61" height="6.62" fill="#f04848"/>
<rect x="79.62" y="451.58" width="6.61" height="6.62" fill="#f04848"/>
<rect x="86.18" y="451.58" width="6.61" height="6.62" fill="#ffc8ea"/>
<rect x="92.74" y="451.58" width="6.61" height="6.62" fill="#8c8cff"/>
<rect x="99.3" y="451.58" width="6.61" height="6.62" fill="#f04848"/>
<rect x="105.86" y="451.58" width="6.61" height="6.62" fill="#dadaff"/>
<rect x="112.42" y="451.58" width="6.61" height="6.62" fill="#ffc8ea"/>
<rect x="118.98" y="451.58" width="6.61" height="6.62" fill="#dadaff"/>
<rect x="125.54" y="451.58" width="6.61" height="6.62" fill="#8c8cff"/>
<rect x="132.1" y="451.58" width="6.61" height="6.62" fill="#2a00c4"/>
<rect x="138.66" y="451.58" width="6.61" height="6.62" fill="#8c8cff"/>
<rect x="145.22" y="451.58" width="6.61" height="6.62" fill="#dadaff"/>
<rect x="151.78" y="451.58" width="6.61" height="6.62" fill="#dc2020"/>
<rect x="158.34" y="451.58" width="6.61" height="6.62" fill="#ff8088"/>
<rect x="164.9" y="451.58" width="6.61" height="6.62" fill="#dadaff"/>
<rect x="171.46" y="451.58" width="6.61" height="6.62" fill="#ff8088"/>
<rect x="178.02" y="451.58" width="6.61" height="6.62" fill="#ffc8ea"/>
<rect x="184.58" y="451.58" width="6.61" height="6.62" fill="#8c8cff"/>
<rect x="191.14" y="451.58" width="6.61" height="6.62" fill="#ffc8ea"/>
<rect x="197.7" y="451.58" width="6.61" height="6.62" fill="#2a00c4"/>
<rect x="204.26" y="451.58" width="6.61" height="6.62" fill="#2a00c4"/>
<rect x="210.82" y="451.58" width="6.61" height="6.62" fill="#2a00c4"/>
<rect x="217.38" y="451.58" width="6.61" height="6.62" fill="#ff8088"/>
<rect x="0.9" y="458.15" width="6.61" height="6.62" fill="#ff8088"/>
<rect x="7.46" y="458.15" width="6.61" height="6.62" fill="#ff8088"/>
<rect x="14.02" y="458.15" width="6.61" height="6.62" fill="#ff8088"/>
<rect x="20.58" y="458.15" width="6.61" height="6.62" fill="#dadaff"/>
<rect x="27.14" y="458.15" width="6.61" height="6.62" fill="#dc2020"/>
<rect x="33.7" y="458.15" width="6.61" height="6.62" fill="#dadaff"/>
<rect x="40.26" y="458.15" width="6.61" height="6.62" fill="#8c8cff"/>
<rect x="46.82" y="458.15" width="6.61" height="6.62" fill="#ffc8ea"/>
<rect x="53.38" y="458.15" width="6.61" height="6.62" fill="#ffc8ea"/>
<rect x="59.94" y="458.15" width="6.61" height="6.62" fill="#8c8cff"/>
<rect x="66.5" y="458.15" width="6.61" height="6.62" fill="#ffc8ea"/>
<rect x="73.06" y="458.15" width="6.61" height="6.62" fill="#ffc8ea"/>
<rect x="79.62" y="458.15" width="6.61" height="6.62" fill="#dadaff"/>
<rect x="86.18" y="458.15" width="6.61" height="6.62" fill="#dadaff"/>
<rect x="92.74" y="458.15" width="6.61" height="6.62" fill="#dadaff"/>
<rect x="99.3" y="458.15" width="6.61" height="6.62" fill="#ff8088"/>
<rect x="105.86" y="458.15" width="6.61" height="6.62" fill="#ffc8ea"/>
<rect x="112.42" y="458.15" width="6.61" height="6.62" fill="#ffc8ea"/>
<rect x="118.98" y="458.15" width="6.61" height="6.62" fill="#8c8cff"/>
<rect x="125.54" y="458.15" width="6.61" height="6.62" fill="#8c8cff"/>
<rect x="132.1" y="458.15" width="6.61" height="6.62" fill="#8c8cff"/>
<rect x="138.66" y="458.15" width="6.61" height="6.62" fill="#2a00c4"/>
<rect x="145.22" y="458.15" width="6.61" height="6.62" fill="#dadaff"/>
<rect x="151.78" y="458.15" width="6.61" height="6.62" fill="#f04848"/>
<rect x="158.34" y="458.15" width="6.61" height="6.62" fill="#dadaff"/>
<rect x="164.9" y="458.15" width="6.61" height="6.62" fill="#dadaff"/>
<rect x="171.46" y="458.15" width="6.61" height="6.62" fill="#8c8cff"/>
<rect x="178.02" y="458.15" width="6.61" height="6.62" fill="#dadaff"/>
<rect x="184.58" y="458.15" width="6.61" height="6.62" fill="#8c8cff"/>
<rect x="191.14" y="458.15" width="6.61" height="6.62" fill="#ffc8ea"/>
<rect x="197.7" y="458.15" width="6.61" height="6.62" fill="#2a00c4"/>
<rect x="204.26" y="458.15" width="6.61" height="6.62" fill="#5a48e6"/>
<rect x="210.82" y="458.15" width="6.61" height="6.62" fill="#2a00c4"/>
<rect x="217.38" y="458.15" width="6.61" height="6.62" fill="#ffc8ea"/>
<rect x="0.9" y="464.72" width="6.61" height="6.62" fill="#ff8088"/>
<rect x="7.46" y="464.72" width="6.61" height="6.62" fill="#ffc8ea"/>
<rect x="14.02" y="464.72" width="6.61" height="6.62" fill="#ffc8ea"/>
<rect x="20.58" y="464.72" width="6.61" height="6.62" fill="#ffc8ea"/>
<rect x="27.14" y="464.72" width="6.61" height="6.62" fill="#ff8088"/>
<rect x="33.7" y="464.72" width="6.61" height="6.62" fill="#dadaff"/>
<rect x="40.26" y="464.72" width="6.61" height="6.62" fill="#8c8cff"/>
<rect x="46.82" y="464.72" width="6.61" height="6.62" fill="#dadaff"/>
<rect x="53.38" y="464.72" width="6.61" height="6.62" fill="#ffc8ea"/>
<rect x="59.94" y="464.72" width="6.61" height="6.62" fill="#8c8cff"/>
<rect x="66.5" y="464.72" width="6.61" height="6.62" fill="#dadaff"/>
<rect x="73.06" y="464.72" width="6.61" height="6.62" fill="#ff8088"/>
<rect x="79.62" y="464.72" width="6.61" height="6.62" fill="#8c8cff"/>
<rect x="86.18" y="464.72" width="6.61" height="6.62" fill="#dadaff"/>
<rect x="92.74" y="464.72" width="6.61" height="6.62" fill="#8c8cff"/>
<rect x="99.3" y="464.72" width="6.61" height="6.62" fill="#ff8088"/>
<rect x="105.86" y="464.72" width="6.61" height="6.62" fill="#ff8088"/>
<rect x="112.42" y="464.72" width="6.61" height="6.62" fill="#dc2020"/>
<rect x="118.98" y="464.72" width="6.61" height="6.62" fill="#2a00c4"/>
<rect x="125.54" y="464.72" width="6.61" height="6.62" fill="#2a00c4"/>
<rect x="132.1" y="464.72" width="6.61" height="6.62" fill="#8c8cff"/>
<rect x="138.66" y="464.72" width="6.61" height="6.62" fill="#8c8cff"/>
<rect x="145.22" y="464.72" width="6.61" height="6.62" fill="#dadaff"/>
<rect x="151.78" y="464.72" width="6.61" height="6.62" fill="#ffc8ea"/>
<rect x="158.34" y="464.72" width="6.61" height="6.62" fill="#dadaff"/>
<rect x="164.9" y="464.72" width="6.61" height="6.62" fill="#2a00c4"/>
<rect x="171.46" y="464.72" width="6.61" height="6.62" fill="#dadaff"/>
<rect x="178.02" y="464.72" width="6.61" height="6.62" fill="#2a00c4"/>
<rect x="184.58" y="464.72" width="6.61" height="6.62" fill="#8c8cff"/>
<rect x="191.14" y="464.72" width="6.61" height="6.62" fill="#ff8088"/>
<rect x="197.7" y="464.72" width="6.61" height="6.62" fill="#8c8cff"/>
<rect x="204.26" y="464.72" width="6.61" height="6.62" fill="#dadaff"/>
<rect x="210.82" y="464.72" width="6.61" height="6.62" fill="#2a00c4"/>
<rect x="217.38" y="464.72" width="6.61" height="6.62" fill="#dadaff"/>
<rect x="0.9" y="471.29" width="6.61" height="6.62" fill="#ff8088"/>
<rect x="7.46" y="471.29" width="6.61" height="6.62" fill="#dadaff"/>
<rect x="14.02" y="471.29" width="6.61" height="6.62" fill="#dadaff"/>
<rect x="20.58" y="471.29" width="6.61" height="6.62" fill="#ff8088"/>
<rect x="27.14" y="471.29" width="6.61" height="6.62" fill="#f04848"/>
<rect x="33.7" y="471.29" width="6.61" height="6.62" fill="#dadaff"/>
<rect x="40.26" y="471.29" width="6.61" height="6.62" fill="#dadaff"/>
<rect x="46.82" y="471.29" width="6.61" height="6.62" fill="#ffc8ea"/>
<rect x="53.38" y="471.29" width="6.61" height="6.62" fill="#8c8cff"/>
<rect x="59.94" y="471.29" width="6.61" height="6.62" fill="#2a00c4"/>
<rect x="66.5" y="471.29" width="6.61" height="6.62" fill="#dadaff"/>
<rect x="73.06" y="471.29" width="6.61" height="6.62" fill="#ff8088"/>
<rect x="79.62" y="471.29" width="6.61" height="6.62" fill="#ffc8ea"/>
<rect x="86.18" y="471.29" width="6.61" height="6.62" fill="#8c8cff"/>
<rect x="92.74" y="471.29" width="6.61" height="6.62" fill="#dadaff"/>
<rect x="99.3" y="471.29" width="6.61" height="6.62" fill="#ff8088"/>
<rect x="105.86" y="471.29" width="6.61" height="6.62" fill="#ffc8ea"/>
<rect x="112.42" y="471.29" width="6.61" height="6.62" fill="#2a00c4"/>
<rect x="118.98" y="471.29" width="6.61" height="6.62" fill="#2a00c4"/>
<rect x="125.54" y="471.29" width="6.61" height="6.62" fill="#8c8cff"/>
<rect x="132.1" y="471.29" width="6.61" height="6.62" fill="#2a00c4"/>
<rect x="138.66" y="471.29" width="6.61" height="6.62" fill="#2a00c4"/>
<rect x="145.22" y="471.29" width="6.61" height="6.62" fill="#8c8cff"/>
<rect x="151.78" y="471.29" width="6.61" height="6.62" fill="#f04848"/>
<rect x="158.34" y="471.29" width="6.61" height="6.62" fill="#ffc8ea"/>
<rect x="164.9" y="471.29" width="6.61" height="6.62" fill="#dadaff"/>
<rect x="171.46" y="471.29" width="6.61" height="6.62" fill="#ff8088"/>
<rect x="178.02" y="471.29" width="6.61" height="6.62" fill="#2a00c4"/>
<rect x="184.58" y="471.29" width="6.61" height="6.62" fill="#8c8cff"/>
<rect x="191.14" y="471.29" width="6.61" height="6.62" fill="#dadaff"/>
<rect x="197.7" y="471.29" width="6.61" height="6.62" fill="#8c8cff"/>
<rect x="204.26" y="471.29" width="6.61" height="6.62" fill="#8c8cff"/>
<rect x="210.82" y="471.29" width="6.61" height="6.62" fill="#dadaff"/>
<rect x="217.38" y="471.29" width="6.61" height="6.62" fill="#dadaff"/>
<rect x="0.9" y="477.86" width="6.61" height="6.62" fill="#ffc8ea"/>
<rect x="7.46" y="477.86" width="6.61" height="6.62" fill="#ffc8ea"/>
<rect x="14.02" y="477.86" width="6.61" height="6.62" fill="#ff8088"/>
<rect x="20.58" y="477.86" width="6.61" height="6.62" fill="#ffc8ea"/>
<rect x="27.14" y="477.86" width="6.61" height="6.62" fill="#ffc8ea"/>
<rect x="33.7" y="477.86" width="6.61" height="6.62" fill="#8c8cff"/>
<rect x="40.26" y="477.86" width="6.61" height="6.62" fill="#8c8cff"/>
<rect x="46.82" y="477.86" width="6.61" height="6.62" fill="#ffc8ea"/>
<rect x="53.38" y="477.86" width="6.61" height="6.62" fill="#2a00c4"/>
<rect x="59.94" y="477.86" width="6.61" height="6.62" fill="#2a00c4"/>
<rect x="66.5" y="477.86" width="6.61" height="6.62" fill="#dadaff"/>
<rect x="73.06" y="477.86" width="6.61" height="6.62" fill="#ffc8ea"/>
<rect x="79.62" y="477.86" width="6.61" height="6.62" fill="#dadaff"/>
<rect x="86.18" y="477.86" width="6.61" height="6.62" fill="#ff8088"/>
<rect x="92.74" y="477.86" width="6.61" height="6.62" fill="#8c8cff"/>
<rect x="99.3" y="477.86" width="6.61" height="6.62" fill="#ff8088"/>
<rect x="105.86" y="477.86" width="6.61" height="6.62" fill="#ff8088"/>
<rect x="112.42" y="477.86" width="6.61" height="6.62" fill="#ffc8ea"/>
<rect x="118.98" y="477.86" width="6.61" height="6.62" fill="#2a00c4"/>
<rect x="125.54" y="477.86" width="6.61" height="6.62" fill="#2a00c4"/>
<rect x="132.1" y="477.86" width="6.61" height="6.62" fill="#ffc8ea"/>
<rect x="138.66" y="477.86" width="6.61" height="6.62" fill="#dadaff"/>
<rect x="145.22" y="477.86" width="6.61" height="6.62" fill="#ff8088"/>
<rect x="151.78" y="477.86" width="6.61" height="6.62" fill="#ff8088"/>
<rect x="158.34" y="477.86" width="6.61" height="6.62" fill="#dc2020"/>
<rect x="164.9" y="477.86" width="6.61" height="6.62" fill="#2a00c4"/>
<rect x="171.46" y="477.86" width="6.61" height="6.62" fill="#dadaff"/>
<rect x="178.02" y="477.86" width="6.61" height="6.62" fill="#2a00c4"/>
<rect x="184.58" y="477.86" width="6.61" height="6.62" fill="#ffc8ea"/>
<rect x="191.14" y="477.86" width="6.61" height="6.62" fill="#dadaff"/>
<rect x="197.7" y="477.86" width="6.61" height="6.62" fill="#dadaff"/>
<rect x="204.26" y="477.86" width="6.61" height="6.62" fill="#8c8cff"/>
<rect x="210.82" y="477.86" width="6.61" height="6.62" fill="#8c8cff"/>
<rect x="217.38" y="477.86" width="6.61" height="6.62" fill="#ffc8ea"/>
<rect x="0.9" y="484.43" width="6.61" height="6.62" fill="#5a48e6"/>
<rect x="7.46" y="484.43" width="6.61" height="6.62" fill="#ff8088"/>
<rect x="14.02" y="484.43" width="6.61" height="6.62" fill="#5a48e6"/>
<rect x="20.58" y="484.43" width="6.61" height="6.62" fill="#ff8088"/>
<rect x="27.14" y="484.43" width="6.61" height="6.62" fill="#8c8cff"/>
<rect x="33.7" y="484.43" width="6.61" height="6.62" fill="#ff8088"/>
<rect x="40.26" y="484.43" width="6.61" height="6.62" fill="#dadaff"/>
<rect x="46.82" y="484.43" width="6.61" height="6.62" fill="#2a00c4"/>
<rect x="53.38" y="484.43" width="6.61" height="6.62" fill="#8c8cff"/>
<rect x="59.94" y="484.43" width="6.61" height="6.62" fill="#8c8cff"/>
<rect x="66.5" y="484.43" width="6.61" height="6.62" fill="#8c8cff"/>
<rect x="73.06" y="484.43" width="6.61" height="6.62" fill="#ffc8ea"/>
<rect x="79.62" y="484.43" width="6.61" height="6.62" fill="#dadaff"/>
<rect x="86.18" y="484.43" width="6.61" height="6.62" fill="#ffc8ea"/>
<rect x="92.74" y="484.43" width="6.61" height="6.62" fill="#2a00c4"/>
<rect x="99.3" y="484.43" width="6.61" height="6.62" fill="#ff8088"/>
<rect x="105.86" y="484.43" width="6.61" height="6.62" fill="#2a00c4"/>
<rect x="112.42" y="484.43" width="6.61" height="6.62" fill="#dadaff"/>
<rect x="118.98" y="484.43" width="6.61" height="6.62" fill="#8c8cff"/>
<rect x="125.54" y="484.43" width="6.61" height="6.62" fill="#ffc8ea"/>
<rect x="132.1" y="484.43" width="6.61" height="6.62" fill="#8c8cff"/>
<rect x="138.66" y="484.43" width="6.61" height="6.62" fill="#8c8cff"/>
<rect x="145.22" y="484.43" width="6.61" height="6.62" fill="#2a00c4"/>
<rect x="151.78" y="484.43" width="6.61" height="6.62" fill="#dc2020"/>
<rect x="158.34" y="484.43" width="6.61" height="6.62" fill="#ffc8ea"/>
<rect x="164.9" y="484.43" width="6.61" height="6.62" fill="#8c8cff"/>
<rect x="171.46" y="484.43" width="6.61" height="6.62" fill="#ff8088"/>
<rect x="178.02" y="484.43" width="6.61" height="6.62" fill="#8c8cff"/>
<rect x="184.58" y="484.43" width="6.61" height="6.62" fill="#2a00c4"/>
<rect x="191.14" y="484.43" width="6.61" height="6.62" fill="#f04848"/>
<rect x="197.7" y="484.43" width="6.61" height="6.62" fill="#8c8cff"/>
<rect x="204.26" y="484.43" width="6.61" height="6.62" fill="#8c8cff"/>
<rect x="210.82" y="484.43" width="6.61" height="6.62" fill="#5a48e6"/>
<rect x="217.38" y="484.43" width="6.61" height="6.62" fill="#ffc8ea"/>
<rect x="0.9" y="491" width="6.61" height="6.62" fill="#dc2020"/>
<rect x="7.46" y="491" width="6.61" height="6.62" fill="#ff8088"/>
<rect x="14.02" y="491" width="6.61" height="6.62" fill="#8c8cff"/>
<rect x="20.58" y="491" width="6.61" height="6.62" fill="#ffc8ea"/>
<rect x="27.14" y="491" width="6.61" height="6.62" fill="#ff8088"/>
<rect x="33.7" y="491" width="6.61" height="6.62" fill="#dadaff"/>
<rect x="40.26" y="491" width="6.61" height="6.62" fill="#dadaff"/>
<rect x="46.82" y="491" width="6.61" height="6.62" fill="#8c8cff"/>
<rect x="53.38" y="491" width="6.61" height="6.62" fill="#dadaff"/>
<rect x="59.94" y="491" width="6.61" height="6.62" fill="#8c8cff"/>
<rect x="66.5" y="491" width="6.61" height="6.62" fill="#8c8cff"/>
<rect x="73.06" y="491" width="6.61" height="6.62" fill="#dadaff"/>
<rect x="79.62" y="491" width="6.61" height="6.62" fill="#8c8cff"/>
<rect x="86.18" y="491" width="6.61" height="6.62" fill="#ffc8ea"/>
<rect x="92.74" y="491" width="6.61" height="6.62" fill="#dadaff"/>
<rect x="99.3" y="491" width="6.61" height="6.62" fill="#ff8088"/>
<rect x="105.86" y="491" width="6.61" height="6.62" fill="#ffc8ea"/>
<rect x="112.42" y="491" width="6.61" height="6.62" fill="#dadaff"/>
<rect x="118.98" y="491" width="6.61" height="6.62" fill="#8c8cff"/>
<rect x="125.54" y="491" width="6.61" height="6.62" fill="#5a48e6"/>
<rect x="132.1" y="491" width="6.61" height="6.62" fill="#2a00c4"/>
<rect x="138.66" y="491" width="6.61" height="6.62" fill="#2a00c4"/>
<rect x="145.22" y="491" width="6.61" height="6.62" fill="#dadaff"/>
<rect x="151.78" y="491" width="6.61" height="6.62" fill="#ff8088"/>
<rect x="158.34" y="491" width="6.61" height="6.62" fill="#dadaff"/>
<rect x="164.9" y="491" width="6.61" height="6.62" fill="#dadaff"/>
<rect x="171.46" y="491" width="6.61" height="6.62" fill="#ffc8ea"/>
<rect x="178.02" y="491" width="6.61" height="6.62" fill="#2a00c4"/>
<rect x="184.58" y="491" width="6.61" height="6.62" fill="#8c8cff"/>
<rect x="191.14" y="491" width="6.61" height="6.62" fill="#dadaff"/>
<rect x="197.7" y="491" width="6.61" height="6.62" fill="#2a00c4"/>
<rect x="204.26" y="491" width="6.61" height="6.62" fill="#8c8cff"/>
<rect x="210.82" y="491" width="6.61" height="6.62" fill="#2a00c4"/>
<rect x="217.38" y="491" width="6.61" height="6.62" fill="#dadaff"/>
<path d="M0.9 359.6V497.57M7.46 359.6V497.57M14.02 359.6V497.57M20.58 359.6V497.57M27.14 359.6V497.57M33.7 359.6V497.57M40.26 359.6V497.57M46.82 359.6V497.57M53.38 359.6V497.57M59.94 359.6V497.57M66.5 359.6V497.57M73.06 359.6V497.57M79.62 359.6V497.57M86.18 359.6V497.57M92.74 359.6V497.57M99.3 359.6V497.57M105.86 359.6V497.57M112.42 359.6V497.57M118.98 359.6V497.57M125.54 359.6V497.57M132.1 359.6V497.57M138.66 359.6V497.57M145.22 359.6V497.57M151.78 359.6V497.57M158.34 359.6V497.57M164.9 359.6V497.57M171.46 359.6V497.57M178.02 359.6V497.57M184.58 359.6V497.57M191.14 359.6V497.57M197.7 359.6V497.57M204.26 359.6V497.57M210.82 359.6V497.57M217.38 359.6V497.57M223.94 359.6V497.57M0.9 359.6H223.94M0.9 366.17H223.94M0.9 372.74H223.94M0.9 379.31H223.94M0.9 385.88H223.94M0.9 392.45H223.94M0.9 399.02H223.94M0.9 405.59H223.94M0.9 412.16H223.94M0.9 418.73H223.94M0.9 425.3H223.94M0.9 431.87H223.94M0.9 438.44H223.94M0.9 445.01H223.94M0.9 451.58H223.94M0.9 458.15H223.94M0.9 464.72H223.94M0.9 471.29H223.94M0.9 477.86H223.94M0.9 484.43H223.94M0.9 491H223.94M0.9 497.57H223.94" stroke="#0c0c1c" stroke-width="1.9" stroke-opacity="0.3" fill="none"/>
<path d="M0.9 359.6V497.57M7.46 359.6V497.57M14.02 359.6V497.57M20.58 359.6V497.57M27.14 359.6V497.57M33.7 359.6V497.57M40.26 359.6V497.57M46.82 359.6V497.57M53.38 359.6V497.57M59.94 359.6V497.57M66.5 359.6V497.57M73.06 359.6V497.57M79.62 359.6V497.57M86.18 359.6V497.57M92.74 359.6V497.57M99.3 359.6V497.57M105.86 359.6V497.57M112.42 359.6V497.57M118.98 359.6V497.57M125.54 359.6V497.57M132.1 359.6V497.57M138.66 359.6V497.57M145.22 359.6V497.57M151.78 359.6V497.57M158.34 359.6V497.57M164.9 359.6V497.57M171.46 359.6V497.57M178.02 359.6V497.57M184.58 359.6V497.57M191.14 359.6V497.57M197.7 359.6V497.57M204.26 359.6V497.57M210.82 359.6V497.57M217.38 359.6V497.57M223.94 359.6V497.57M0.9 359.6H223.94M0.9 366.17H223.94M0.9 372.74H223.94M0.9 379.31H223.94M0.9 385.88H223.94M0.9 392.45H223.94M0.9 399.02H223.94M0.9 405.59H223.94M0.9 412.16H223.94M0.9 418.73H223.94M0.9 425.3H223.94M0.9 431.87H223.94M0.9 438.44H223.94M0.9 445.01H223.94M0.9 451.58H223.94M0.9 458.15H223.94M0.9 464.72H223.94M0.9 471.29H223.94M0.9 477.86H223.94M0.9 484.43H223.94M0.9 491H223.94M0.9 497.57H223.94" stroke="#0c0c1c" stroke-width="1" stroke-opacity="0.72" fill="none"/>
<path d="M223.94 360.35H252.6M223.94 366.92H252.6M223.94 373.49H252.6M223.94 380.06H252.6M223.94 386.63H252.6M223.94 393.2H252.6M223.94 399.77H252.6M223.94 406.34H252.6M223.94 412.91H252.6M223.94 419.48H252.6M223.94 426.05H252.6M223.94 432.62H252.6M223.94 439.19H252.6M223.94 445.76H252.6M223.94 452.33H252.6M223.94 458.9H252.6M223.94 465.47H252.6M223.94 472.04H252.6M223.94 478.61H252.6M223.94 485.18H252.6M223.94 491.75H252.6M223.94 498.32H252.6" stroke="#333" stroke-width="0.9" fill="none"/>
<g font-family="Liberation Mono, monospace" font-size="6.1" fill="#111" font-weight="bold">
<text x="229" y="366.67">MAPK7</text>
<text x="229" y="373.24">PTK2</text>
<text x="229" y="379.81">JUN</text>
<text x="229" y="386.38">MAPK8</text>
<text x="229" y="392.95">DLG4</text>
<text x="229" y="399.52">RASAL1</text>
<text x="229" y="406.09">KCNH2</text>
<text x="229" y="412.66">PLD1</text>
<text x="229" y="419.23">PAK1</text>
<text x="229" y="425.8">TEC</text>
<text x="229" y="432.37">BTK</text>
<text x="229" y="438.94">FCER1</text>
<text x="229" y="445.51">SRC</text>
<text x="229" y="452.08">PLD2</text>
<text x="229" y="458.65">FCER1G</text>
<text x="229" y="465.22">FYN</text>
<text x="229" y="471.79">VAV1</text>
<text x="229" y="478.36">MARCKS</text>
<text x="229" y="484.93">MAPK1</text>
<text x="229" y="491.5">MYLK2</text>
<text x="229" y="498.07">PLD3</text>
</g>
<svg x="230" y="345" width="22.9" height="11" overflow="hidden"><text x="0" y="8" font-family="Liberation Mono, monospace" font-size="7.7" fill="#111" stroke="#111" stroke-width="0.15">Sample</text></svg>
<g id="pc">
<path d="M310.75 18.2V145H519.6M308.55 145H310.75M308.55 129.15H310.75M308.55 113.3H310.75M308.55 97.45H310.75M308.55 81.6H310.75M308.55 65.75H310.75M308.55 49.9H310.75M308.55 34.05H310.75M308.55 18.2H310.75M310.75 145V147.2M380.4 145V147.2M450 145V147.2M519.5 145V147.2" stroke="#000" stroke-width="1.5" fill="none"/>
<g font-family="Liberation Sans, sans-serif" font-weight="bold" font-size="7.2" fill="#000" text-anchor="end">
<text x="304.35" y="147.6">0</text>
<text x="304.35" y="131.75">1000</text>
<text x="304.35" y="115.9">2000</text>
<text x="304.35" y="100.05">3000</text>
<text x="304.35" y="84.2">4000</text>
<text x="304.35" y="68.35">5000</text>
<text x="304.35" y="52.5">6000</text>
<text x="304.35" y="36.65">7000</text>
<text x="304.35" y="20.8">8000</text>
</g>
<rect x="332.5" y="50" width="27.5" height="95" fill="#000"/>
<path d="M346.25 50V38.75M344.25 38.75H348.25" stroke="#000" stroke-width="0.9" fill="none"/>
<rect x="401.25" y="128.75" width="27.5" height="16.25" fill="#000"/>
<path d="M415 128.75V126.6M413 126.6H417" stroke="#000" stroke-width="0.9" fill="none"/>
<rect x="470.5" y="68" width="27.5" height="77" fill="#000"/>
<path d="M484.25 68V63.75M482.25 63.75H486.25" stroke="#000" stroke-width="0.9" fill="none"/>
<g font-family="Liberation Sans, sans-serif" font-weight="bold" font-size="7.5" fill="#000" text-anchor="middle">
<text x="345.6" y="160.4">N PBMC</text>
<text x="415.4" y="160.4">AC PBMC</text>
<text x="484.7" y="160.4">TLGL</text>
</g>
<text font-family="Liberation Sans, sans-serif" font-weight="bold" font-size="7.3" text-anchor="middle" transform="translate(281.6 81.8) rotate(-90)">Relative Fluorescence Unit</text>
</g>
<g id="pd">
<defs><filter id="bl" x="-20%" y="-50%" width="140%" height="200%"><feGaussianBlur stdDeviation="0.8"/></filter></defs>
<g font-family="Liberation Sans, sans-serif" font-weight="bold" font-size="5.6" fill="#000" text-anchor="middle">
<text x="328" y="185.6">N PBMC</text><text x="387" y="185.6">AC PBMC</text><text x="469.2" y="185.6">TLGL</text>
<text x="312" y="193.7">1</text>
<text x="328.3" y="193.7">2</text>
<text x="345" y="193.7">3</text>
<text x="363" y="193.7">4</text>
<text x="379" y="193.7">5</text>
<text x="395.5" y="193.7">6</text>
<text x="412" y="193.7">7</text>
<text x="425.8" y="193.7">8</text>
<text x="439.5" y="193.7">9</text>
<text x="456" y="193.7">10</text>
<text x="472.5" y="193.7">11</text>
<text x="490" y="193.7">12</text>
<text x="505.5" y="193.7">13</text>
</g>
<path d="M308.5 188H348M358.5 188H415.2M423.5 188H511.5" stroke="#000" stroke-width="1.1" fill="none"/>
<rect x="303.6" y="194.4" width="212.6" height="15.4" fill="#c6c6c6" stroke="#777" stroke-width="0.6"/>
<rect x="303.6" y="211.1" width="212.6" height="14" fill="#cfcfcf" stroke="#777" stroke-width="0.6"/>
<g filter="url(#bl)" fill="#0a0a0a">
<rect x="304.6" y="199.2" width="15.9" height="6" rx="3" opacity="1"/>
<rect x="320.6" y="200" width="16.6" height="5.2" rx="2.6" opacity="1"/>
<rect x="338.6" y="199.9" width="12.9" height="2.6" rx="1.3" opacity="0.8"/>
<rect x="416.6" y="198.6" width="16.8" height="6.8" rx="3.4" opacity="1"/>
<rect x="433.2" y="199.2" width="15.6" height="5.6" rx="2.8" opacity="1"/>
<rect x="449.3" y="200.2" width="13.9" height="4.2" rx="2.1" opacity="1"/>
<rect x="464.3" y="200.1" width="14.9" height="4.2" rx="2.1" opacity="1"/>
<rect x="479.2" y="198" width="21.6" height="7.6" rx="3.8" opacity="1"/>
<rect x="499.6" y="199.5" width="14.8" height="5.4" rx="2.7" opacity="1"/>
<rect x="304.6" y="214.5" width="16.2" height="6.6" rx="3.3"/>
<rect x="320.8" y="214.5" width="17" height="6.6" rx="3.3"/>
<rect x="338" y="214.5" width="16.8" height="6.6" rx="3.3"/>
<rect x="355.2" y="214.4" width="16.6" height="6.8" rx="3.4"/>
<rect x="372.2" y="214.3" width="17" height="7" rx="3.5"/>
<rect x="389.5" y="214.5" width="12.3" height="6.6" rx="3.3"/>
<rect x="402.2" y="214.5" width="15" height="6.6" rx="3.3"/>
<rect x="417.8" y="214.4" width="15.2" height="6.8" rx="3.4"/>
<rect x="433.8" y="214.5" width="15.4" height="6.6" rx="3.3"/>
<rect x="450.2" y="214.4" width="15" height="6.8" rx="3.4"/>
<rect x="465.8" y="214.4" width="16" height="6.8" rx="3.4"/>
<rect x="482.5" y="214.3" width="16.8" height="7" rx="3.5"/>
<rect x="500.6" y="215.5" width="13.6" height="4.6" rx="2.3"/>
</g>
<g font-family="Liberation Sans, sans-serif" font-weight="bold" font-size="5.6" fill="#000" text-anchor="middle">
<text x="286.8" y="203.2">α-subunit of</text><text x="286.5" y="209.3">ASAH1</text><text x="286.5" y="220.2">β-actin</text>
</g></g>
<g id="pe">
<path d="M303.2 258.9V403.5M303.2 380.1H517.3M300.4 380.1H303.2M300.4 349.8H303.2M300.4 319.5H303.2M300.4 289.2H303.2M300.4 258.9H303.2M324.61 380.1V391.7M346.02 380.1V403.5M367.43 380.1V391.7M388.84 380.1V403.5M410.25 380.1V391.7M431.66 380.1V403.5M453.07 380.1V391.7M474.48 380.1V403.5M495.89 380.1V391.7M517.3 380.1V403.5" stroke="#222" stroke-width="1" fill="none"/>
<g font-family="Liberation Sans, sans-serif" font-weight="bold" font-size="7.7" fill="#000" text-anchor="end">
<text transform="translate(296.8 383.2) scale(1 1.18)">0</text>
<text transform="translate(296.8 352.9) scale(1 1.18)">0.5</text>
<text transform="translate(296.8 322.6) scale(1 1.18)">1</text>
<text transform="translate(296.8 292.3) scale(1 1.18)">1.5</text>
<text transform="translate(296.8 262) scale(1 1.18)">2</text>
</g>
<text font-family="Liberation Sans, sans-serif" font-weight="bold" font-size="8.6" text-anchor="middle" transform="translate(281 317) rotate(-90) scale(1 1.08)">Relative Unit</text>
<g font-family="Liberation Sans, sans-serif" font-weight="bold" fill="#000" text-anchor="middle">
<text font-size="5.4" transform="translate(313.9 390.2) scale(1 1.2)">CD8</text>
<text font-size="5.4" transform="translate(335.31 390.2) scale(1 1.2)">TLGL</text>
<text font-size="5.4" transform="translate(356.72 390.2) scale(1 1.2)">CD8</text>
<text font-size="5.4" transform="translate(378.13 390.2) scale(1 1.2)">TLGL</text>
<text font-size="5.4" transform="translate(399.54 390.2) scale(1 1.2)">CD8</text>
<text font-size="5.4" transform="translate(420.95 390.2) scale(1 1.2)">TLGL</text>
<text font-size="5.4" transform="translate(442.37 390.2) scale(1 1.2)">CD8</text>
<text font-size="5.4" transform="translate(463.77 390.2) scale(1 1.2)">TLGL</text>
<text font-size="5.4" transform="translate(485.19 390.2) scale(1 1.2)">CD8</text>
<text font-size="5.4" transform="translate(506.6 390.2) scale(1 1.2)">TLGL</text>
<text font-size="5.7" transform="translate(324.61 402.2) scale(1 1.15)">S1P1</text>
<text font-size="5.7" transform="translate(367.43 402.2) scale(1 1.15)">S1P2</text>
<text font-size="5.7" transform="translate(410.25 402.2) scale(1 1.15)">S1P3</text>
<text font-size="5.7" transform="translate(453.07 402.2) scale(1 1.15)">S1P4</text>
<text font-size="5.7" transform="translate(495.89 402.2) scale(1 1.15)">S1P5</text>
</g>
<circle cx="313.3" cy="338.3" r="1.9" fill="#fff" stroke="#6a6a6a" stroke-width="0.9"/>
<circle cx="313.3" cy="337" r="1.9" fill="#fff" stroke="#6a6a6a" stroke-width="0.9"/>
<circle cx="313.3" cy="355" r="1.9" fill="#fff" stroke="#6a6a6a" stroke-width="0.9"/>
<circle cx="313.3" cy="368" r="1.9" fill="#fff" stroke="#6a6a6a" stroke-width="0.9"/>
<circle cx="356.8" cy="380" r="1.9" fill="#fff" stroke="#6a6a6a" stroke-width="0.9"/>
<circle cx="399.5" cy="380.2" r="1.9" fill="#fff" stroke="#6a6a6a" stroke-width="0.9"/>
<circle cx="442.5" cy="352" r="1.9" fill="#fff" stroke="#6a6a6a" stroke-width="0.9"/>
<circle cx="442.5" cy="358.8" r="1.9" fill="#fff" stroke="#6a6a6a" stroke-width="0.9"/>
<circle cx="442.5" cy="365.3" r="1.9" fill="#fff" stroke="#6a6a6a" stroke-width="0.9"/>
<circle cx="442.5" cy="374.5" r="1.9" fill="#fff" stroke="#6a6a6a" stroke-width="0.9"/>
<circle cx="485.8" cy="362.8" r="1.9" fill="#fff" stroke="#6a6a6a" stroke-width="0.9"/>
<circle cx="485.8" cy="365.8" r="1.9" fill="#fff" stroke="#6a6a6a" stroke-width="0.9"/>
<circle cx="485.8" cy="368" r="1.9" fill="#fff" stroke="#6a6a6a" stroke-width="0.9"/>
<circle cx="485.8" cy="370.8" r="1.9" fill="#fff" stroke="#6a6a6a" stroke-width="0.9"/>
<circle cx="335" cy="376" r="2.05" fill="#000"/>
<circle cx="335" cy="378" r="2.05" fill="#000"/>
<circle cx="335" cy="379.6" r="2.05" fill="#000"/>
<circle cx="378" cy="380" r="2.05" fill="#000"/>
<circle cx="420.8" cy="379.4" r="2.05" fill="#000"/>
<circle cx="420.8" cy="380" r="2.05" fill="#000"/>
<circle cx="464" cy="364.5" r="2.05" fill="#000"/>
<circle cx="464" cy="369.3" r="2.05" fill="#000"/>
<circle cx="464" cy="371.3" r="2.05" fill="#000"/>
<circle cx="464" cy="373.3" r="2.05" fill="#000"/>
<circle cx="464" cy="378" r="2.05" fill="#000"/>
<circle cx="507" cy="261.3" r="2.05" fill="#000"/>
<circle cx="507" cy="298.3" r="2.05" fill="#000"/>
<circle cx="507" cy="332" r="2.05" fill="#000"/>
<circle cx="507" cy="345" r="2.05" fill="#000"/>
<circle cx="507" cy="348" r="2.05" fill="#000"/>
</g>
<g id="pf">
<path d="M297.6 435.46V555.34M297.6 528.7H517.6M295.4 555.34H297.6M295.4 542.02H297.6M295.4 528.7H297.6M295.4 515.38H297.6M295.4 502.06H297.6M295.4 488.74H297.6M295.4 475.42H297.6M295.4 462.1H297.6M295.4 448.78H297.6M295.4 435.46H297.6M352.5 528.7V530.9M407.3 528.7V530.9M462.3 528.7V530.9M517.5 528.7V530.9" stroke="#000" stroke-width="0.9" fill="none"/>
<g font-family="Liberation Sans, sans-serif" font-weight="bold" font-size="6.8" fill="#000" text-anchor="end">
<text x="292.3" y="557.84">-4</text>
<text x="292.3" y="544.52">-2</text>
<text x="292.3" y="531.2">0</text>
<text x="292.3" y="517.88">2</text>
<text x="292.3" y="504.56">4</text>
<text x="292.3" y="491.24">6</text>
<text x="292.3" y="477.92">8</text>
<text x="292.3" y="464.6">10</text>
<text x="292.3" y="451.28">12</text>
<text x="292.3" y="437.96">14</text>
</g>
<text font-family="Liberation Sans, sans-serif" font-size="8.2" text-anchor="middle" transform="translate(280.3 493.1) rotate(-90)">Expression Ratio [2-log scale]</text>
<rect x="302.7" y="437.2" width="20.2" height="26.2" fill="#fff" stroke="#555" stroke-width="0.7"/>
<rect x="304.6" y="440.6" width="2.8" height="2.8" fill="#fff" stroke="#000" stroke-width="0.6"/>
<rect x="304.6" y="449.2" width="2.8" height="2.8" fill="#999" stroke="#000" stroke-width="0.6"/>
<rect x="304.6" y="457.8" width="2.8" height="2.8" fill="#000" stroke="#000" stroke-width="0.6"/>
<g font-family="Liberation Sans, sans-serif" font-weight="bold" font-size="4.6" fill="#000">
<text x="309.6" y="443.8">S1P1</text><text x="309.6" y="452.4">S1P4</text><text x="309.6" y="461">S1P5</text></g>
<rect x="307.5" y="528.7" width="12" height="12.6" fill="#fff" stroke="#000" stroke-width="0.8"/>
<rect x="319.5" y="528.7" width="12.2" height="6.8" fill="#999" stroke="#000" stroke-width="0.8"/>
<rect x="331.7" y="517" width="12.1" height="11.7" fill="#000" stroke="#000" stroke-width="0.8"/>
<path d="M337.75 517V512.5M335.95 512.5H339.55" stroke="#222" stroke-width="0.8" fill="none"/>
<rect x="361.8" y="528.7" width="12.4" height="18.8" fill="#fff" stroke="#000" stroke-width="0.8"/>
<rect x="374.2" y="528.7" width="12" height="5.5" fill="#999" stroke="#000" stroke-width="0.8"/>
<rect x="386.2" y="514.5" width="12.5" height="14.2" fill="#000" stroke="#000" stroke-width="0.8"/>
<path d="M392.45 514.5V505.5M390.65 505.5H394.25" stroke="#222" stroke-width="0.8" fill="none"/>
<rect x="416.8" y="511.8" width="12" height="16.9" fill="#fff" stroke="#000" stroke-width="0.8"/>
<path d="M422.8 511.8V500M421 500H424.6" stroke="#222" stroke-width="0.8" fill="none"/>
<rect x="428.8" y="512.5" width="12" height="16.2" fill="#999" stroke="#000" stroke-width="0.8"/>
<path d="M434.8 512.5V503.8M433 503.8H436.6" stroke="#222" stroke-width="0.8" fill="none"/>
<rect x="440.8" y="474.3" width="12.2" height="54.4" fill="#000" stroke="#000" stroke-width="0.8"/>
<path d="M446.9 474.3V441.8M445.1 441.8H448.7" stroke="#222" stroke-width="0.8" fill="none"/>
<rect x="471.3" y="515.8" width="12" height="12.9" fill="#fff" stroke="#000" stroke-width="0.8"/>
<path d="M477.3 515.8V508.3M475.5 508.3H479.1" stroke="#222" stroke-width="0.8" fill="none"/>
<rect x="483.3" y="515.8" width="11.7" height="12.9" fill="#999" stroke="#000" stroke-width="0.8"/>
<path d="M489.15 515.8V510M487.35 510H490.95" stroke="#222" stroke-width="0.8" fill="none"/>
<rect x="495" y="475.8" width="12.5" height="52.9" fill="#000" stroke="#000" stroke-width="0.8"/>
<path d="M501.25 475.8V452.5M499.45 452.5H503.05" stroke="#222" stroke-width="0.8" fill="none"/>
<path d="M313.5 541.3V542.3M311.8 542.3H315.2M325.6 535.5V536.2M380.2 534.2V535.4M378.5 535.4H382" stroke="#222" stroke-width="0.8" fill="none"/>
<g font-family="Liberation Sans, sans-serif" font-weight="bold" font-size="7" fill="#000" text-anchor="middle">
<text x="337.8" y="509.6">*</text><text x="313.3" y="549">*</text><text x="392.5" y="502.3">*</text><text x="368" y="555.5">**</text><text x="447" y="438.2">**</text><text x="501.3" y="448.8">**</text>
</g>
<g font-family="Liberation Sans, sans-serif" font-weight="bold" font-size="5.4" fill="#000" text-anchor="middle">
<text x="325.7" y="564.8">TLGL compared to</text>
<text x="325.7" y="571.7">Naïve PBMC</text>
<text x="380" y="564.8">TLGL compared to</text>
<text x="380" y="571.7">Naïve Enriched</text>
<text x="380" y="578.6">CD8+ cells</text>
<text x="434.5" y="564.8">TLGL compared to</text>
<text x="434.5" y="571.7">Activated PBMC</text>
<text x="489.3" y="564.8">TLGL compared to</text>
<text x="489.3" y="571.7">Activated Enriched</text>
<text x="489.3" y="578.6">CD8+ cells</text>
</g></g>
</svg>
</body></html>
